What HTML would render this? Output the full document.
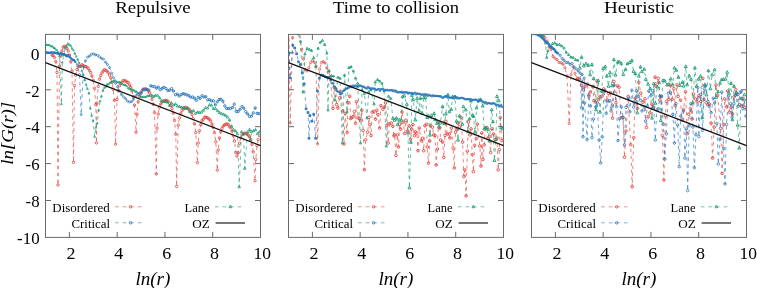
<!DOCTYPE html>
<html><head><meta charset="utf-8"><style>
html,body{margin:0;padding:0;background:#fff;}
svg{display:block;filter:blur(0.35px);}
text{font-family:"Liberation Serif", serif;fill:#000;}
.tk{font-size:17.3px;}
.ti{font-size:17.7px;}
.xl{font-size:18px;font-style:italic;}
.yl{font-size:17px;font-style:italic;}
.lg{font-size:12.3px;}
</style></head><body>
<svg width="757" height="288" viewBox="0 0 757 288">
<clipPath id="c0"><rect x="45.50" y="34.40" width="215.01" height="203.00"/></clipPath>
<clipPath id="c1"><rect x="288.50" y="34.40" width="215.01" height="203.00"/></clipPath>
<clipPath id="c2"><rect x="531.50" y="34.40" width="215.01" height="203.00"/></clipPath>
<rect x="45.50" y="34.40" width="215.01" height="203.00" fill="none" stroke="#6a6a6a" stroke-width="1"/>
<path d="M69.39,237.40v-5.5M69.39,34.40v5.5M117.17,237.40v-5.5M117.17,34.40v5.5M164.95,237.40v-5.5M164.95,34.40v5.5M212.73,237.40v-5.5M212.73,34.40v5.5M45.50,52.85h5.5M260.51,52.85h-5.5M45.50,89.76h5.5M260.51,89.76h-5.5M45.50,126.67h5.5M260.51,126.67h-5.5M45.50,163.58h5.5M260.51,163.58h-5.5M45.50,200.49h5.5M260.51,200.49h-5.5" stroke="#6a6a6a" stroke-width="1" fill="none"/>
<text x="71.09" y="259.40" class="tk" text-anchor="middle" textLength="9.0" lengthAdjust="spacingAndGlyphs">2</text>
<text x="118.87" y="259.40" class="tk" text-anchor="middle" textLength="9.0" lengthAdjust="spacingAndGlyphs">4</text>
<text x="166.65" y="259.40" class="tk" text-anchor="middle" textLength="9.0" lengthAdjust="spacingAndGlyphs">6</text>
<text x="214.43" y="259.40" class="tk" text-anchor="middle" textLength="9.0" lengthAdjust="spacingAndGlyphs">8</text>
<text x="262.21" y="259.40" class="tk" text-anchor="middle" textLength="17.5" lengthAdjust="spacingAndGlyphs">10</text>
<text x="153.00" y="12.80" class="ti" text-anchor="middle" textLength="75.5" lengthAdjust="spacingAndGlyphs">Repulsive</text>
<text x="152.91" y="284.70" class="xl" text-anchor="middle" textLength="35" lengthAdjust="spacingAndGlyphs">ln(r)</text>
<text x="109.80" y="211.70" class="lg" text-anchor="end" textLength="57.5" lengthAdjust="spacingAndGlyphs">Disordered</text>
<text x="110.00" y="227.60" class="lg" text-anchor="end" textLength="38.5" lengthAdjust="spacingAndGlyphs">Critical</text>
<text x="209.50" y="211.70" class="lg" text-anchor="end" textLength="25" lengthAdjust="spacingAndGlyphs">Lane</text>
<text x="209.70" y="227.60" class="lg" text-anchor="end" textLength="17.5" lengthAdjust="spacingAndGlyphs">OZ</text>
<line x1="115.10" y1="206.8" x2="142.60" y2="206.8" stroke="#e4463f" stroke-width="1" stroke-dasharray="3.6 4" opacity="0.6"/>
<circle cx="130.60" cy="206.80" r="1.25" fill="none" stroke="#e4463f" stroke-width="1.0" opacity="0.85"/>
<line x1="115.10" y1="222.8" x2="142.60" y2="222.8" stroke="#2a78bc" stroke-width="1" stroke-dasharray="3.6 4" opacity="0.6"/>
<circle cx="130.60" cy="222.80" r="1.25" fill="none" stroke="#2a78bc" stroke-width="1.0" opacity="0.85"/>
<line x1="214.90" y1="206.8" x2="242.40" y2="206.8" stroke="#1a9c72" stroke-width="1" stroke-dasharray="3.6 4" opacity="0.6"/>
<path d="M230.40,205.10l1.4,2.6h-2.8z" fill="none" stroke="#1a9c72" stroke-width="1.0" opacity="0.85"/>
<line x1="215.60" y1="223" x2="245.00" y2="223" stroke="#555" stroke-width="1.6"/>
<g clip-path="url(#c0)">
<path d="M52.0,55.1L53.2,55.7L54.5,57.5L55.8,61.5L57.0,72.4L58.0,184.9L59.5,66.0L60.8,56.1L62.0,51.0L63.2,47.0L64.5,46.3L65.8,46.7L67.0,48.6L68.2,51.1L69.5,55.1L70.8,61.8L72.0,71.1L73.5,162.3L74.5,85.4L75.8,75.1L77.0,69.5L78.2,66.8L79.5,66.1L80.8,66.0L82.0,64.7L83.2,65.6L84.5,66.5L85.8,66.5L87.0,67.3L88.2,68.4L89.5,70.6L90.8,72.7L92.0,76.1L93.2,80.3L94.5,88.3L95.8,104.5L96.4,142.9L97.0,103.0L98.2,86.4L99.5,79.2L100.8,75.5L102.0,72.9L103.2,71.0L104.5,69.6L105.8,70.3L107.0,71.0L108.2,72.6L109.5,75.2L110.8,77.8L112.0,82.4L113.2,89.4L114.5,100.3L115.6,144.2L117.0,99.5L118.2,90.7L119.5,85.8L120.8,83.6L122.0,82.2L123.2,80.5L124.5,80.7L125.8,80.9L127.0,82.2L128.2,82.5L129.5,84.8L130.8,87.1L132.0,90.9L133.2,96.6L134.5,105.1L136.1,132.3L137.0,114.1L138.2,101.7L139.5,96.6L140.8,93.2L142.0,90.5L143.2,89.1L144.5,89.0L145.8,88.8L147.0,89.5L148.2,91.1L149.5,92.6L150.8,95.3L152.0,99.4L153.2,104.2L154.5,112.7L156.3,174.0L157.0,128.2L158.2,114.0L159.5,107.2L160.8,104.0L162.0,102.0L163.2,101.1L164.5,100.6L165.8,100.3L167.0,100.8L168.2,101.5L169.5,103.2L170.8,105.4L172.0,108.4L173.2,113.2L174.5,120.5L175.8,134.2L176.6,186.4L178.2,125.2L179.5,117.8L180.8,113.5L182.0,110.7L183.2,108.9L184.5,107.7L185.8,107.3L187.0,108.3L188.2,108.8L189.5,109.6L190.8,112.2L192.0,114.5L193.2,118.7L194.5,123.9L195.8,132.7L197.4,162.7L198.2,142.9L199.5,130.6L200.8,124.8L202.0,120.6L203.2,119.5L204.5,117.3L205.8,117.1L207.0,117.5L208.2,118.5L209.5,119.4L210.8,121.1L212.0,124.1L213.2,127.4L214.5,132.7L215.8,141.8L217.3,170.2L218.2,150.0L219.5,137.9L220.8,131.7L222.0,128.3L223.2,126.1L224.5,125.0L225.8,124.3L227.0,123.9L228.2,124.5L229.5,126.6L230.8,127.9L232.0,131.1L233.2,135.8L234.5,141.1L235.8,152.3L237.0,156.0L238.2,152.7L239.5,143.1L240.8,137.9L242.0,134.8L243.2,133.9L244.5,133.2L245.8,133.4L247.0,134.2L248.2,135.2L249.5,136.8L250.8,139.4L252.0,144.4L253.2,152.0L255.0,180.8L255.8,159.4L257.0,145.6L258.2,139.6L259.5,135.6" fill="none" stroke="#e4463f" stroke-width="0.75" stroke-dasharray="3.4 3.6" opacity="0.9"/>
<path d="M50.80,55.1a1.2,1.2 0 1,0 2.40,0a1.2,1.2 0 1,0 -2.40,0zM52.05,55.7a1.2,1.2 0 1,0 2.40,0a1.2,1.2 0 1,0 -2.40,0zM53.30,57.5a1.2,1.2 0 1,0 2.40,0a1.2,1.2 0 1,0 -2.40,0zM54.55,61.5a1.2,1.2 0 1,0 2.40,0a1.2,1.2 0 1,0 -2.40,0zM55.80,72.4a1.2,1.2 0 1,0 2.40,0a1.2,1.2 0 1,0 -2.40,0zM56.80,184.9a1.2,1.2 0 1,0 2.40,0a1.2,1.2 0 1,0 -2.40,0zM58.30,66.0a1.2,1.2 0 1,0 2.40,0a1.2,1.2 0 1,0 -2.40,0zM59.55,56.1a1.2,1.2 0 1,0 2.40,0a1.2,1.2 0 1,0 -2.40,0zM60.80,51.0a1.2,1.2 0 1,0 2.40,0a1.2,1.2 0 1,0 -2.40,0zM62.05,47.0a1.2,1.2 0 1,0 2.40,0a1.2,1.2 0 1,0 -2.40,0zM63.30,46.3a1.2,1.2 0 1,0 2.40,0a1.2,1.2 0 1,0 -2.40,0zM64.55,46.7a1.2,1.2 0 1,0 2.40,0a1.2,1.2 0 1,0 -2.40,0zM65.80,48.6a1.2,1.2 0 1,0 2.40,0a1.2,1.2 0 1,0 -2.40,0zM67.05,51.1a1.2,1.2 0 1,0 2.40,0a1.2,1.2 0 1,0 -2.40,0zM68.30,55.1a1.2,1.2 0 1,0 2.40,0a1.2,1.2 0 1,0 -2.40,0zM69.55,61.8a1.2,1.2 0 1,0 2.40,0a1.2,1.2 0 1,0 -2.40,0zM70.80,71.1a1.2,1.2 0 1,0 2.40,0a1.2,1.2 0 1,0 -2.40,0zM72.30,162.3a1.2,1.2 0 1,0 2.40,0a1.2,1.2 0 1,0 -2.40,0zM73.30,85.4a1.2,1.2 0 1,0 2.40,0a1.2,1.2 0 1,0 -2.40,0zM74.55,75.1a1.2,1.2 0 1,0 2.40,0a1.2,1.2 0 1,0 -2.40,0zM75.80,69.5a1.2,1.2 0 1,0 2.40,0a1.2,1.2 0 1,0 -2.40,0zM77.05,66.8a1.2,1.2 0 1,0 2.40,0a1.2,1.2 0 1,0 -2.40,0zM78.30,66.1a1.2,1.2 0 1,0 2.40,0a1.2,1.2 0 1,0 -2.40,0zM79.55,66.0a1.2,1.2 0 1,0 2.40,0a1.2,1.2 0 1,0 -2.40,0zM80.80,64.7a1.2,1.2 0 1,0 2.40,0a1.2,1.2 0 1,0 -2.40,0zM82.05,65.6a1.2,1.2 0 1,0 2.40,0a1.2,1.2 0 1,0 -2.40,0zM83.30,66.5a1.2,1.2 0 1,0 2.40,0a1.2,1.2 0 1,0 -2.40,0zM84.55,66.5a1.2,1.2 0 1,0 2.40,0a1.2,1.2 0 1,0 -2.40,0zM85.80,67.3a1.2,1.2 0 1,0 2.40,0a1.2,1.2 0 1,0 -2.40,0zM87.05,68.4a1.2,1.2 0 1,0 2.40,0a1.2,1.2 0 1,0 -2.40,0zM88.30,70.6a1.2,1.2 0 1,0 2.40,0a1.2,1.2 0 1,0 -2.40,0zM89.55,72.7a1.2,1.2 0 1,0 2.40,0a1.2,1.2 0 1,0 -2.40,0zM90.80,76.1a1.2,1.2 0 1,0 2.40,0a1.2,1.2 0 1,0 -2.40,0zM92.05,80.3a1.2,1.2 0 1,0 2.40,0a1.2,1.2 0 1,0 -2.40,0zM93.30,88.3a1.2,1.2 0 1,0 2.40,0a1.2,1.2 0 1,0 -2.40,0zM94.55,104.5a1.2,1.2 0 1,0 2.40,0a1.2,1.2 0 1,0 -2.40,0zM95.20,142.9a1.2,1.2 0 1,0 2.40,0a1.2,1.2 0 1,0 -2.40,0zM95.80,103.0a1.2,1.2 0 1,0 2.40,0a1.2,1.2 0 1,0 -2.40,0zM97.05,86.4a1.2,1.2 0 1,0 2.40,0a1.2,1.2 0 1,0 -2.40,0zM98.30,79.2a1.2,1.2 0 1,0 2.40,0a1.2,1.2 0 1,0 -2.40,0zM99.55,75.5a1.2,1.2 0 1,0 2.40,0a1.2,1.2 0 1,0 -2.40,0zM100.80,72.9a1.2,1.2 0 1,0 2.40,0a1.2,1.2 0 1,0 -2.40,0zM102.05,71.0a1.2,1.2 0 1,0 2.40,0a1.2,1.2 0 1,0 -2.40,0zM103.30,69.6a1.2,1.2 0 1,0 2.40,0a1.2,1.2 0 1,0 -2.40,0zM104.55,70.3a1.2,1.2 0 1,0 2.40,0a1.2,1.2 0 1,0 -2.40,0zM105.80,71.0a1.2,1.2 0 1,0 2.40,0a1.2,1.2 0 1,0 -2.40,0zM107.05,72.6a1.2,1.2 0 1,0 2.40,0a1.2,1.2 0 1,0 -2.40,0zM108.30,75.2a1.2,1.2 0 1,0 2.40,0a1.2,1.2 0 1,0 -2.40,0zM109.55,77.8a1.2,1.2 0 1,0 2.40,0a1.2,1.2 0 1,0 -2.40,0zM110.80,82.4a1.2,1.2 0 1,0 2.40,0a1.2,1.2 0 1,0 -2.40,0zM112.05,89.4a1.2,1.2 0 1,0 2.40,0a1.2,1.2 0 1,0 -2.40,0zM113.30,100.3a1.2,1.2 0 1,0 2.40,0a1.2,1.2 0 1,0 -2.40,0zM114.40,144.2a1.2,1.2 0 1,0 2.40,0a1.2,1.2 0 1,0 -2.40,0zM115.80,99.5a1.2,1.2 0 1,0 2.40,0a1.2,1.2 0 1,0 -2.40,0zM117.05,90.7a1.2,1.2 0 1,0 2.40,0a1.2,1.2 0 1,0 -2.40,0zM118.30,85.8a1.2,1.2 0 1,0 2.40,0a1.2,1.2 0 1,0 -2.40,0zM119.55,83.6a1.2,1.2 0 1,0 2.40,0a1.2,1.2 0 1,0 -2.40,0zM120.80,82.2a1.2,1.2 0 1,0 2.40,0a1.2,1.2 0 1,0 -2.40,0zM122.05,80.5a1.2,1.2 0 1,0 2.40,0a1.2,1.2 0 1,0 -2.40,0zM123.30,80.7a1.2,1.2 0 1,0 2.40,0a1.2,1.2 0 1,0 -2.40,0zM124.55,80.9a1.2,1.2 0 1,0 2.40,0a1.2,1.2 0 1,0 -2.40,0zM125.80,82.2a1.2,1.2 0 1,0 2.40,0a1.2,1.2 0 1,0 -2.40,0zM127.05,82.5a1.2,1.2 0 1,0 2.40,0a1.2,1.2 0 1,0 -2.40,0zM128.30,84.8a1.2,1.2 0 1,0 2.40,0a1.2,1.2 0 1,0 -2.40,0zM129.55,87.1a1.2,1.2 0 1,0 2.40,0a1.2,1.2 0 1,0 -2.40,0zM130.80,90.9a1.2,1.2 0 1,0 2.40,0a1.2,1.2 0 1,0 -2.40,0zM132.05,96.6a1.2,1.2 0 1,0 2.40,0a1.2,1.2 0 1,0 -2.40,0zM133.30,105.1a1.2,1.2 0 1,0 2.40,0a1.2,1.2 0 1,0 -2.40,0zM134.90,132.3a1.2,1.2 0 1,0 2.40,0a1.2,1.2 0 1,0 -2.40,0zM135.80,114.1a1.2,1.2 0 1,0 2.40,0a1.2,1.2 0 1,0 -2.40,0zM137.05,101.7a1.2,1.2 0 1,0 2.40,0a1.2,1.2 0 1,0 -2.40,0zM138.30,96.6a1.2,1.2 0 1,0 2.40,0a1.2,1.2 0 1,0 -2.40,0zM139.55,93.2a1.2,1.2 0 1,0 2.40,0a1.2,1.2 0 1,0 -2.40,0zM140.80,90.5a1.2,1.2 0 1,0 2.40,0a1.2,1.2 0 1,0 -2.40,0zM142.05,89.1a1.2,1.2 0 1,0 2.40,0a1.2,1.2 0 1,0 -2.40,0zM143.30,89.0a1.2,1.2 0 1,0 2.40,0a1.2,1.2 0 1,0 -2.40,0zM144.55,88.8a1.2,1.2 0 1,0 2.40,0a1.2,1.2 0 1,0 -2.40,0zM145.80,89.5a1.2,1.2 0 1,0 2.40,0a1.2,1.2 0 1,0 -2.40,0zM147.05,91.1a1.2,1.2 0 1,0 2.40,0a1.2,1.2 0 1,0 -2.40,0zM148.30,92.6a1.2,1.2 0 1,0 2.40,0a1.2,1.2 0 1,0 -2.40,0zM149.55,95.3a1.2,1.2 0 1,0 2.40,0a1.2,1.2 0 1,0 -2.40,0zM150.80,99.4a1.2,1.2 0 1,0 2.40,0a1.2,1.2 0 1,0 -2.40,0zM152.05,104.2a1.2,1.2 0 1,0 2.40,0a1.2,1.2 0 1,0 -2.40,0zM153.30,112.7a1.2,1.2 0 1,0 2.40,0a1.2,1.2 0 1,0 -2.40,0zM155.10,174.0a1.2,1.2 0 1,0 2.40,0a1.2,1.2 0 1,0 -2.40,0zM155.80,128.2a1.2,1.2 0 1,0 2.40,0a1.2,1.2 0 1,0 -2.40,0zM157.05,114.0a1.2,1.2 0 1,0 2.40,0a1.2,1.2 0 1,0 -2.40,0zM158.30,107.2a1.2,1.2 0 1,0 2.40,0a1.2,1.2 0 1,0 -2.40,0zM159.55,104.0a1.2,1.2 0 1,0 2.40,0a1.2,1.2 0 1,0 -2.40,0zM160.80,102.0a1.2,1.2 0 1,0 2.40,0a1.2,1.2 0 1,0 -2.40,0zM162.05,101.1a1.2,1.2 0 1,0 2.40,0a1.2,1.2 0 1,0 -2.40,0zM163.30,100.6a1.2,1.2 0 1,0 2.40,0a1.2,1.2 0 1,0 -2.40,0zM164.55,100.3a1.2,1.2 0 1,0 2.40,0a1.2,1.2 0 1,0 -2.40,0zM165.80,100.8a1.2,1.2 0 1,0 2.40,0a1.2,1.2 0 1,0 -2.40,0zM167.05,101.5a1.2,1.2 0 1,0 2.40,0a1.2,1.2 0 1,0 -2.40,0zM168.30,103.2a1.2,1.2 0 1,0 2.40,0a1.2,1.2 0 1,0 -2.40,0zM169.55,105.4a1.2,1.2 0 1,0 2.40,0a1.2,1.2 0 1,0 -2.40,0zM170.80,108.4a1.2,1.2 0 1,0 2.40,0a1.2,1.2 0 1,0 -2.40,0zM172.05,113.2a1.2,1.2 0 1,0 2.40,0a1.2,1.2 0 1,0 -2.40,0zM173.30,120.5a1.2,1.2 0 1,0 2.40,0a1.2,1.2 0 1,0 -2.40,0zM174.55,134.2a1.2,1.2 0 1,0 2.40,0a1.2,1.2 0 1,0 -2.40,0zM175.40,186.4a1.2,1.2 0 1,0 2.40,0a1.2,1.2 0 1,0 -2.40,0zM177.05,125.2a1.2,1.2 0 1,0 2.40,0a1.2,1.2 0 1,0 -2.40,0zM178.30,117.8a1.2,1.2 0 1,0 2.40,0a1.2,1.2 0 1,0 -2.40,0zM179.55,113.5a1.2,1.2 0 1,0 2.40,0a1.2,1.2 0 1,0 -2.40,0zM180.80,110.7a1.2,1.2 0 1,0 2.40,0a1.2,1.2 0 1,0 -2.40,0zM182.05,108.9a1.2,1.2 0 1,0 2.40,0a1.2,1.2 0 1,0 -2.40,0zM183.30,107.7a1.2,1.2 0 1,0 2.40,0a1.2,1.2 0 1,0 -2.40,0zM184.55,107.3a1.2,1.2 0 1,0 2.40,0a1.2,1.2 0 1,0 -2.40,0zM185.80,108.3a1.2,1.2 0 1,0 2.40,0a1.2,1.2 0 1,0 -2.40,0zM187.05,108.8a1.2,1.2 0 1,0 2.40,0a1.2,1.2 0 1,0 -2.40,0zM188.30,109.6a1.2,1.2 0 1,0 2.40,0a1.2,1.2 0 1,0 -2.40,0zM189.55,112.2a1.2,1.2 0 1,0 2.40,0a1.2,1.2 0 1,0 -2.40,0zM190.80,114.5a1.2,1.2 0 1,0 2.40,0a1.2,1.2 0 1,0 -2.40,0zM192.05,118.7a1.2,1.2 0 1,0 2.40,0a1.2,1.2 0 1,0 -2.40,0zM193.30,123.9a1.2,1.2 0 1,0 2.40,0a1.2,1.2 0 1,0 -2.40,0zM194.55,132.7a1.2,1.2 0 1,0 2.40,0a1.2,1.2 0 1,0 -2.40,0zM196.20,162.7a1.2,1.2 0 1,0 2.40,0a1.2,1.2 0 1,0 -2.40,0zM197.05,142.9a1.2,1.2 0 1,0 2.40,0a1.2,1.2 0 1,0 -2.40,0zM198.30,130.6a1.2,1.2 0 1,0 2.40,0a1.2,1.2 0 1,0 -2.40,0zM199.55,124.8a1.2,1.2 0 1,0 2.40,0a1.2,1.2 0 1,0 -2.40,0zM200.80,120.6a1.2,1.2 0 1,0 2.40,0a1.2,1.2 0 1,0 -2.40,0zM202.05,119.5a1.2,1.2 0 1,0 2.40,0a1.2,1.2 0 1,0 -2.40,0zM203.30,117.3a1.2,1.2 0 1,0 2.40,0a1.2,1.2 0 1,0 -2.40,0zM204.55,117.1a1.2,1.2 0 1,0 2.40,0a1.2,1.2 0 1,0 -2.40,0zM205.80,117.5a1.2,1.2 0 1,0 2.40,0a1.2,1.2 0 1,0 -2.40,0zM207.05,118.5a1.2,1.2 0 1,0 2.40,0a1.2,1.2 0 1,0 -2.40,0zM208.30,119.4a1.2,1.2 0 1,0 2.40,0a1.2,1.2 0 1,0 -2.40,0zM209.55,121.1a1.2,1.2 0 1,0 2.40,0a1.2,1.2 0 1,0 -2.40,0zM210.80,124.1a1.2,1.2 0 1,0 2.40,0a1.2,1.2 0 1,0 -2.40,0zM212.05,127.4a1.2,1.2 0 1,0 2.40,0a1.2,1.2 0 1,0 -2.40,0zM213.30,132.7a1.2,1.2 0 1,0 2.40,0a1.2,1.2 0 1,0 -2.40,0zM214.55,141.8a1.2,1.2 0 1,0 2.40,0a1.2,1.2 0 1,0 -2.40,0zM216.10,170.2a1.2,1.2 0 1,0 2.40,0a1.2,1.2 0 1,0 -2.40,0zM217.05,150.0a1.2,1.2 0 1,0 2.40,0a1.2,1.2 0 1,0 -2.40,0zM218.30,137.9a1.2,1.2 0 1,0 2.40,0a1.2,1.2 0 1,0 -2.40,0zM219.55,131.7a1.2,1.2 0 1,0 2.40,0a1.2,1.2 0 1,0 -2.40,0zM220.80,128.3a1.2,1.2 0 1,0 2.40,0a1.2,1.2 0 1,0 -2.40,0zM222.05,126.1a1.2,1.2 0 1,0 2.40,0a1.2,1.2 0 1,0 -2.40,0zM223.30,125.0a1.2,1.2 0 1,0 2.40,0a1.2,1.2 0 1,0 -2.40,0zM224.55,124.3a1.2,1.2 0 1,0 2.40,0a1.2,1.2 0 1,0 -2.40,0zM225.80,123.9a1.2,1.2 0 1,0 2.40,0a1.2,1.2 0 1,0 -2.40,0zM227.05,124.5a1.2,1.2 0 1,0 2.40,0a1.2,1.2 0 1,0 -2.40,0zM228.30,126.6a1.2,1.2 0 1,0 2.40,0a1.2,1.2 0 1,0 -2.40,0zM229.55,127.9a1.2,1.2 0 1,0 2.40,0a1.2,1.2 0 1,0 -2.40,0zM230.80,131.1a1.2,1.2 0 1,0 2.40,0a1.2,1.2 0 1,0 -2.40,0zM232.05,135.8a1.2,1.2 0 1,0 2.40,0a1.2,1.2 0 1,0 -2.40,0zM233.30,141.1a1.2,1.2 0 1,0 2.40,0a1.2,1.2 0 1,0 -2.40,0zM234.55,152.3a1.2,1.2 0 1,0 2.40,0a1.2,1.2 0 1,0 -2.40,0zM235.80,156.0a1.2,1.2 0 1,0 2.40,0a1.2,1.2 0 1,0 -2.40,0zM237.05,152.7a1.2,1.2 0 1,0 2.40,0a1.2,1.2 0 1,0 -2.40,0zM238.30,143.1a1.2,1.2 0 1,0 2.40,0a1.2,1.2 0 1,0 -2.40,0zM239.55,137.9a1.2,1.2 0 1,0 2.40,0a1.2,1.2 0 1,0 -2.40,0zM240.80,134.8a1.2,1.2 0 1,0 2.40,0a1.2,1.2 0 1,0 -2.40,0zM242.05,133.9a1.2,1.2 0 1,0 2.40,0a1.2,1.2 0 1,0 -2.40,0zM243.30,133.2a1.2,1.2 0 1,0 2.40,0a1.2,1.2 0 1,0 -2.40,0zM244.55,133.4a1.2,1.2 0 1,0 2.40,0a1.2,1.2 0 1,0 -2.40,0zM245.80,134.2a1.2,1.2 0 1,0 2.40,0a1.2,1.2 0 1,0 -2.40,0zM247.05,135.2a1.2,1.2 0 1,0 2.40,0a1.2,1.2 0 1,0 -2.40,0zM248.30,136.8a1.2,1.2 0 1,0 2.40,0a1.2,1.2 0 1,0 -2.40,0zM249.55,139.4a1.2,1.2 0 1,0 2.40,0a1.2,1.2 0 1,0 -2.40,0zM250.80,144.4a1.2,1.2 0 1,0 2.40,0a1.2,1.2 0 1,0 -2.40,0zM252.05,152.0a1.2,1.2 0 1,0 2.40,0a1.2,1.2 0 1,0 -2.40,0zM253.80,180.8a1.2,1.2 0 1,0 2.40,0a1.2,1.2 0 1,0 -2.40,0zM254.55,159.4a1.2,1.2 0 1,0 2.40,0a1.2,1.2 0 1,0 -2.40,0zM255.80,145.6a1.2,1.2 0 1,0 2.40,0a1.2,1.2 0 1,0 -2.40,0zM257.05,139.6a1.2,1.2 0 1,0 2.40,0a1.2,1.2 0 1,0 -2.40,0zM258.30,135.6a1.2,1.2 0 1,0 2.40,0a1.2,1.2 0 1,0 -2.40,0z" fill="none" stroke="#e4463f" stroke-width="0.85" opacity="1.0"/>
<path d="M45.5,44.6L46.9,44.8L48.3,45.0L49.7,45.2L51.1,46.2L52.5,46.5L53.9,47.8L55.3,48.7L56.7,50.0L58.1,52.3L59.5,55.9L61.4,104.0L62.3,62.2L63.7,54.9L65.1,48.3L66.5,45.6L67.9,43.7L69.3,44.7L70.7,45.6L72.1,48.5L73.5,50.2L74.9,53.4L76.3,56.4L77.7,59.4L79.1,62.8L80.5,66.6L81.9,70.7L83.3,74.8L84.7,79.8L86.1,84.5L87.5,88.8L88.9,93.1L90.3,108.5L91.7,115.7L93.1,120.7L94.6,136.6L95.9,127.5L97.3,123.0L98.7,110.3L100.1,101.0L101.5,96.1L102.9,90.6L104.3,87.7L105.7,86.7L107.1,84.5L108.5,84.2L109.9,82.7L111.3,81.9L112.7,81.6L114.1,80.6L115.5,80.6L116.9,82.1L118.3,82.3L119.7,82.1L121.1,82.8L122.5,84.0L123.9,84.8L125.3,85.0L126.7,85.9L128.1,87.9L129.5,89.0L130.9,89.0L132.3,89.6L133.7,90.1L135.1,91.4L136.5,91.6L137.9,93.3L139.3,95.1L140.7,96.4L142.1,97.1L143.5,96.8L144.9,97.0L146.3,96.6L147.7,95.7L149.1,95.9L151.5,95.2L153.5,96.6L155.5,95.3L157.5,95.4L159.5,97.7L161.5,100.6L163.5,101.3L165.5,101.6L167.5,102.2L169.5,105.4L171.5,103.0L173.5,105.1L175.5,104.0L177.5,106.1L179.5,106.6L181.5,107.1L183.5,107.8L185.5,108.7L187.5,107.8L189.5,111.2L191.5,111.4L193.5,110.7L195.5,113.4L197.5,112.1L199.5,112.6L201.5,112.0L203.5,110.2L205.5,107.7L207.5,108.1L209.5,104.9L211.5,105.2L213.5,108.6L215.5,108.7L217.5,110.7L219.5,112.6L221.5,113.7L223.5,114.3L225.5,115.4L227.5,117.1L229.5,120.0L231.5,126.1L233.5,129.5L235.5,131.1L237.5,133.9L239.2,186.9L241.5,131.8L243.5,134.2L244.8,168.4L247.5,131.8L249.5,129.5L250.5,140.0L251.5,131.5L253.5,130.8L255.5,129.8L257.5,133.4L259.5,131.7" fill="none" stroke="#1a9c72" stroke-width="0.75" stroke-dasharray="3.4 3.6" opacity="0.9"/>
<path d="M45.5,43.6l0.88,1.68h-1.76zM46.9,43.8l0.88,1.68h-1.76zM48.3,44.0l0.88,1.68h-1.76zM49.7,44.2l0.88,1.68h-1.76zM51.1,45.2l0.88,1.68h-1.76zM52.5,45.5l0.88,1.68h-1.76zM53.9,46.8l0.88,1.68h-1.76zM55.3,47.7l0.88,1.68h-1.76zM56.7,49.0l0.88,1.68h-1.76zM58.1,51.3l0.88,1.68h-1.76zM59.5,54.9l0.88,1.68h-1.76zM61.4,103.0l0.88,1.68h-1.76zM62.3,61.2l0.88,1.68h-1.76zM63.7,53.9l0.88,1.68h-1.76zM65.1,47.3l0.88,1.68h-1.76zM66.5,44.6l0.88,1.68h-1.76zM67.9,42.7l0.88,1.68h-1.76zM69.3,43.7l0.88,1.68h-1.76zM70.7,44.6l0.88,1.68h-1.76zM72.1,47.5l0.88,1.68h-1.76zM73.5,49.2l0.88,1.68h-1.76zM74.9,52.4l0.88,1.68h-1.76zM76.3,55.4l0.88,1.68h-1.76zM77.7,58.4l0.88,1.68h-1.76zM79.1,61.8l0.88,1.68h-1.76zM80.5,65.6l0.88,1.68h-1.76zM81.9,69.7l0.88,1.68h-1.76zM83.3,73.8l0.88,1.68h-1.76zM84.7,78.8l0.88,1.68h-1.76zM86.1,83.5l0.88,1.68h-1.76zM87.5,87.8l0.88,1.68h-1.76zM88.9,92.1l0.88,1.68h-1.76zM90.3,107.5l0.88,1.68h-1.76zM91.7,114.7l0.88,1.68h-1.76zM93.1,119.7l0.88,1.68h-1.76zM94.6,135.6l0.88,1.68h-1.76zM95.9,126.5l0.88,1.68h-1.76zM97.3,122.0l0.88,1.68h-1.76zM98.7,109.3l0.88,1.68h-1.76zM100.1,100.0l0.88,1.68h-1.76zM101.5,95.1l0.88,1.68h-1.76zM102.9,89.6l0.88,1.68h-1.76zM104.3,86.7l0.88,1.68h-1.76zM105.7,85.7l0.88,1.68h-1.76zM107.1,83.5l0.88,1.68h-1.76zM108.5,83.2l0.88,1.68h-1.76zM109.9,81.7l0.88,1.68h-1.76zM111.3,80.9l0.88,1.68h-1.76zM112.7,80.6l0.88,1.68h-1.76zM114.1,79.6l0.88,1.68h-1.76zM115.5,79.6l0.88,1.68h-1.76zM116.9,81.1l0.88,1.68h-1.76zM118.3,81.3l0.88,1.68h-1.76zM119.7,81.1l0.88,1.68h-1.76zM121.1,81.8l0.88,1.68h-1.76zM122.5,83.0l0.88,1.68h-1.76zM123.9,83.8l0.88,1.68h-1.76zM125.3,84.0l0.88,1.68h-1.76zM126.7,84.9l0.88,1.68h-1.76zM128.1,86.9l0.88,1.68h-1.76zM129.5,88.0l0.88,1.68h-1.76zM130.9,88.0l0.88,1.68h-1.76zM132.3,88.6l0.88,1.68h-1.76zM133.7,89.1l0.88,1.68h-1.76zM135.1,90.4l0.88,1.68h-1.76zM136.5,90.6l0.88,1.68h-1.76zM137.9,92.3l0.88,1.68h-1.76zM139.3,94.1l0.88,1.68h-1.76zM140.7,95.4l0.88,1.68h-1.76zM142.1,96.1l0.88,1.68h-1.76zM143.5,95.8l0.88,1.68h-1.76zM144.9,96.0l0.88,1.68h-1.76zM146.3,95.6l0.88,1.68h-1.76zM147.7,94.7l0.88,1.68h-1.76zM149.1,94.9l0.88,1.68h-1.76z" fill="none" stroke="#1a9c72" stroke-width="0.75" opacity="1.0"/>
<path d="M151.5,93.8l1.21,2.31h-2.42zM153.5,95.2l1.21,2.31h-2.42zM155.5,94.0l1.21,2.31h-2.42zM157.5,94.0l1.21,2.31h-2.42zM159.5,96.3l1.21,2.31h-2.42zM161.5,99.2l1.21,2.31h-2.42zM163.5,99.9l1.21,2.31h-2.42zM165.5,100.2l1.21,2.31h-2.42zM167.5,100.8l1.21,2.31h-2.42zM169.5,104.1l1.21,2.31h-2.42zM171.5,101.6l1.21,2.31h-2.42zM173.5,103.8l1.21,2.31h-2.42zM175.5,102.6l1.21,2.31h-2.42zM177.5,104.7l1.21,2.31h-2.42zM179.5,105.2l1.21,2.31h-2.42zM181.5,105.8l1.21,2.31h-2.42zM183.5,106.4l1.21,2.31h-2.42zM185.5,107.3l1.21,2.31h-2.42zM187.5,106.5l1.21,2.31h-2.42zM189.5,109.9l1.21,2.31h-2.42zM191.5,110.1l1.21,2.31h-2.42zM193.5,109.3l1.21,2.31h-2.42zM195.5,112.0l1.21,2.31h-2.42zM197.5,110.7l1.21,2.31h-2.42zM199.5,111.2l1.21,2.31h-2.42zM201.5,110.6l1.21,2.31h-2.42zM203.5,108.8l1.21,2.31h-2.42zM205.5,106.3l1.21,2.31h-2.42zM207.5,106.7l1.21,2.31h-2.42zM209.5,103.5l1.21,2.31h-2.42zM211.5,103.8l1.21,2.31h-2.42zM213.5,107.3l1.21,2.31h-2.42zM215.5,107.3l1.21,2.31h-2.42zM217.5,109.3l1.21,2.31h-2.42zM219.5,111.2l1.21,2.31h-2.42zM221.5,112.4l1.21,2.31h-2.42zM223.5,112.9l1.21,2.31h-2.42zM225.5,114.0l1.21,2.31h-2.42zM227.5,115.7l1.21,2.31h-2.42zM229.5,118.6l1.21,2.31h-2.42zM231.5,124.7l1.21,2.31h-2.42zM233.5,128.1l1.21,2.31h-2.42zM235.5,129.7l1.21,2.31h-2.42zM237.5,132.5l1.21,2.31h-2.42zM239.2,185.5l1.21,2.31h-2.42zM241.5,130.4l1.21,2.31h-2.42zM243.5,132.8l1.21,2.31h-2.42zM244.8,167.0l1.21,2.31h-2.42zM247.5,130.5l1.21,2.31h-2.42zM249.5,128.2l1.21,2.31h-2.42zM250.5,138.6l1.21,2.31h-2.42zM251.5,130.1l1.21,2.31h-2.42zM253.5,129.4l1.21,2.31h-2.42zM255.5,128.4l1.21,2.31h-2.42zM257.5,132.1l1.21,2.31h-2.42zM259.5,130.4l1.21,2.31h-2.42z" fill="none" stroke="#1a9c72" stroke-width="0.8" opacity="1.0"/>
<path d="M45.5,52.3L46.6,52.4L47.7,53.0L48.8,52.7L49.9,52.8L51.0,52.4L52.1,52.5L53.2,52.7L54.3,52.6L55.4,53.1L56.5,53.2L57.6,53.3L58.7,53.8L59.8,53.9L60.9,53.3L62.0,54.0L63.1,54.4L64.2,54.2L65.3,54.9L66.4,56.2L67.5,55.2L68.6,56.2L69.7,57.0L70.8,58.2L71.9,59.3L73.0,59.9L74.1,60.2L75.2,61.7L77.5,65.2L79.5,74.6L81.2,114.6L83.5,66.8L85.5,60.7L87.5,57.2L89.5,56.0L91.5,54.3L93.5,53.8L95.5,54.8L97.5,55.3L99.5,56.8L101.5,58.4L103.5,59.2L105.5,62.2L107.5,64.6L109.5,67.5L111.5,73.0L113.5,77.8L115.5,83.4L117.5,86.7L119.5,91.0L121.5,94.5L123.5,96.8L125.5,98.6L127.5,101.2L129.5,102.0L131.5,101.7L133.5,98.8L135.5,96.1L137.5,94.2L139.5,92.9L141.2,92.9L143.1,89.8L145.0,89.8L146.9,89.3L148.8,90.1L150.7,85.7L152.6,86.5L154.5,86.5L156.4,88.2L158.3,87.1L160.2,89.7L162.1,88.3L164.0,87.4L165.9,88.4L167.8,90.6L169.7,90.2L171.6,88.6L173.5,91.0L175.4,94.7L177.3,94.1L179.2,96.1L181.1,94.7L183.0,93.7L184.9,94.2L186.8,94.8L188.7,95.6L190.6,97.1L192.5,97.0L194.4,98.2L196.3,100.3L198.2,97.3L200.1,98.4L202.0,95.7L203.9,97.0L205.8,96.7L207.7,99.9L209.6,99.7L211.5,101.0L213.4,100.8L215.3,105.0L217.2,101.9L219.1,99.5L221.0,99.2L222.9,101.2L224.8,105.9L226.7,108.5L228.6,108.6L230.5,108.5L232.4,107.6L234.3,104.1L236.2,111.4L238.1,111.6L240.0,109.3L241.9,106.5L243.8,108.2L245.7,111.6L247.6,113.9L249.5,116.4L251.4,116.2L253.3,112.8L255.2,107.9L257.1,113.3L259.0,113.7" fill="none" stroke="#2a78bc" stroke-width="0.75" stroke-dasharray="3.4 3.6" opacity="0.9"/>
<path d="M44.80,52.3a0.7,0.7 0 1,0 1.40,0a0.7,0.7 0 1,0 -1.40,0zM45.90,52.4a0.7,0.7 0 1,0 1.40,0a0.7,0.7 0 1,0 -1.40,0zM47.00,53.0a0.7,0.7 0 1,0 1.40,0a0.7,0.7 0 1,0 -1.40,0zM48.10,52.7a0.7,0.7 0 1,0 1.40,0a0.7,0.7 0 1,0 -1.40,0zM49.20,52.8a0.7,0.7 0 1,0 1.40,0a0.7,0.7 0 1,0 -1.40,0zM50.30,52.4a0.7,0.7 0 1,0 1.40,0a0.7,0.7 0 1,0 -1.40,0zM51.40,52.5a0.7,0.7 0 1,0 1.40,0a0.7,0.7 0 1,0 -1.40,0zM52.50,52.7a0.7,0.7 0 1,0 1.40,0a0.7,0.7 0 1,0 -1.40,0zM53.60,52.6a0.7,0.7 0 1,0 1.40,0a0.7,0.7 0 1,0 -1.40,0zM54.70,53.1a0.7,0.7 0 1,0 1.40,0a0.7,0.7 0 1,0 -1.40,0zM55.80,53.2a0.7,0.7 0 1,0 1.40,0a0.7,0.7 0 1,0 -1.40,0zM56.90,53.3a0.7,0.7 0 1,0 1.40,0a0.7,0.7 0 1,0 -1.40,0zM58.00,53.8a0.7,0.7 0 1,0 1.40,0a0.7,0.7 0 1,0 -1.40,0zM59.10,53.9a0.7,0.7 0 1,0 1.40,0a0.7,0.7 0 1,0 -1.40,0zM60.20,53.3a0.7,0.7 0 1,0 1.40,0a0.7,0.7 0 1,0 -1.40,0zM61.30,54.0a0.7,0.7 0 1,0 1.40,0a0.7,0.7 0 1,0 -1.40,0zM62.40,54.4a0.7,0.7 0 1,0 1.40,0a0.7,0.7 0 1,0 -1.40,0zM63.50,54.2a0.7,0.7 0 1,0 1.40,0a0.7,0.7 0 1,0 -1.40,0zM64.60,54.9a0.7,0.7 0 1,0 1.40,0a0.7,0.7 0 1,0 -1.40,0zM65.70,56.2a0.7,0.7 0 1,0 1.40,0a0.7,0.7 0 1,0 -1.40,0zM66.80,55.2a0.7,0.7 0 1,0 1.40,0a0.7,0.7 0 1,0 -1.40,0zM67.90,56.2a0.7,0.7 0 1,0 1.40,0a0.7,0.7 0 1,0 -1.40,0zM69.00,57.0a0.7,0.7 0 1,0 1.40,0a0.7,0.7 0 1,0 -1.40,0zM70.10,58.2a0.7,0.7 0 1,0 1.40,0a0.7,0.7 0 1,0 -1.40,0zM71.20,59.3a0.7,0.7 0 1,0 1.40,0a0.7,0.7 0 1,0 -1.40,0zM72.30,59.9a0.7,0.7 0 1,0 1.40,0a0.7,0.7 0 1,0 -1.40,0zM73.40,60.2a0.7,0.7 0 1,0 1.40,0a0.7,0.7 0 1,0 -1.40,0zM74.50,61.7a0.7,0.7 0 1,0 1.40,0a0.7,0.7 0 1,0 -1.40,0z" fill="none" stroke="#2a78bc" stroke-width="1.1" opacity="1.0"/>
<path d="M76.50,65.2a1.0,1.0 0 1,0 2.00,0a1.0,1.0 0 1,0 -2.00,0zM78.50,74.6a1.0,1.0 0 1,0 2.00,0a1.0,1.0 0 1,0 -2.00,0zM80.20,114.6a1.0,1.0 0 1,0 2.00,0a1.0,1.0 0 1,0 -2.00,0zM82.50,66.8a1.0,1.0 0 1,0 2.00,0a1.0,1.0 0 1,0 -2.00,0zM84.50,60.7a1.0,1.0 0 1,0 2.00,0a1.0,1.0 0 1,0 -2.00,0zM86.50,57.2a1.0,1.0 0 1,0 2.00,0a1.0,1.0 0 1,0 -2.00,0zM88.50,56.0a1.0,1.0 0 1,0 2.00,0a1.0,1.0 0 1,0 -2.00,0zM90.50,54.3a1.0,1.0 0 1,0 2.00,0a1.0,1.0 0 1,0 -2.00,0zM92.50,53.8a1.0,1.0 0 1,0 2.00,0a1.0,1.0 0 1,0 -2.00,0zM94.50,54.8a1.0,1.0 0 1,0 2.00,0a1.0,1.0 0 1,0 -2.00,0zM96.50,55.3a1.0,1.0 0 1,0 2.00,0a1.0,1.0 0 1,0 -2.00,0zM98.50,56.8a1.0,1.0 0 1,0 2.00,0a1.0,1.0 0 1,0 -2.00,0zM100.50,58.4a1.0,1.0 0 1,0 2.00,0a1.0,1.0 0 1,0 -2.00,0zM102.50,59.2a1.0,1.0 0 1,0 2.00,0a1.0,1.0 0 1,0 -2.00,0zM104.50,62.2a1.0,1.0 0 1,0 2.00,0a1.0,1.0 0 1,0 -2.00,0zM106.50,64.6a1.0,1.0 0 1,0 2.00,0a1.0,1.0 0 1,0 -2.00,0zM108.50,67.5a1.0,1.0 0 1,0 2.00,0a1.0,1.0 0 1,0 -2.00,0zM110.50,73.0a1.0,1.0 0 1,0 2.00,0a1.0,1.0 0 1,0 -2.00,0zM112.50,77.8a1.0,1.0 0 1,0 2.00,0a1.0,1.0 0 1,0 -2.00,0zM114.50,83.4a1.0,1.0 0 1,0 2.00,0a1.0,1.0 0 1,0 -2.00,0zM116.50,86.7a1.0,1.0 0 1,0 2.00,0a1.0,1.0 0 1,0 -2.00,0zM118.50,91.0a1.0,1.0 0 1,0 2.00,0a1.0,1.0 0 1,0 -2.00,0zM120.50,94.5a1.0,1.0 0 1,0 2.00,0a1.0,1.0 0 1,0 -2.00,0zM122.50,96.8a1.0,1.0 0 1,0 2.00,0a1.0,1.0 0 1,0 -2.00,0zM124.50,98.6a1.0,1.0 0 1,0 2.00,0a1.0,1.0 0 1,0 -2.00,0zM126.50,101.2a1.0,1.0 0 1,0 2.00,0a1.0,1.0 0 1,0 -2.00,0zM128.50,102.0a1.0,1.0 0 1,0 2.00,0a1.0,1.0 0 1,0 -2.00,0zM130.50,101.7a1.0,1.0 0 1,0 2.00,0a1.0,1.0 0 1,0 -2.00,0zM132.50,98.8a1.0,1.0 0 1,0 2.00,0a1.0,1.0 0 1,0 -2.00,0zM134.50,96.1a1.0,1.0 0 1,0 2.00,0a1.0,1.0 0 1,0 -2.00,0zM136.50,94.2a1.0,1.0 0 1,0 2.00,0a1.0,1.0 0 1,0 -2.00,0zM138.50,92.9a1.0,1.0 0 1,0 2.00,0a1.0,1.0 0 1,0 -2.00,0z" fill="none" stroke="#2a78bc" stroke-width="0.8" opacity="1.0"/>
<path d="M140.05,92.9a1.15,1.15 0 1,0 2.30,0a1.15,1.15 0 1,0 -2.30,0zM141.95,89.8a1.15,1.15 0 1,0 2.30,0a1.15,1.15 0 1,0 -2.30,0zM143.85,89.8a1.15,1.15 0 1,0 2.30,0a1.15,1.15 0 1,0 -2.30,0zM145.75,89.3a1.15,1.15 0 1,0 2.30,0a1.15,1.15 0 1,0 -2.30,0zM147.65,90.1a1.15,1.15 0 1,0 2.30,0a1.15,1.15 0 1,0 -2.30,0zM149.55,85.7a1.15,1.15 0 1,0 2.30,0a1.15,1.15 0 1,0 -2.30,0zM151.45,86.5a1.15,1.15 0 1,0 2.30,0a1.15,1.15 0 1,0 -2.30,0zM153.35,86.5a1.15,1.15 0 1,0 2.30,0a1.15,1.15 0 1,0 -2.30,0zM155.25,88.2a1.15,1.15 0 1,0 2.30,0a1.15,1.15 0 1,0 -2.30,0zM157.15,87.1a1.15,1.15 0 1,0 2.30,0a1.15,1.15 0 1,0 -2.30,0zM159.05,89.7a1.15,1.15 0 1,0 2.30,0a1.15,1.15 0 1,0 -2.30,0zM160.95,88.3a1.15,1.15 0 1,0 2.30,0a1.15,1.15 0 1,0 -2.30,0zM162.85,87.4a1.15,1.15 0 1,0 2.30,0a1.15,1.15 0 1,0 -2.30,0zM164.75,88.4a1.15,1.15 0 1,0 2.30,0a1.15,1.15 0 1,0 -2.30,0zM166.65,90.6a1.15,1.15 0 1,0 2.30,0a1.15,1.15 0 1,0 -2.30,0zM168.55,90.2a1.15,1.15 0 1,0 2.30,0a1.15,1.15 0 1,0 -2.30,0zM170.45,88.6a1.15,1.15 0 1,0 2.30,0a1.15,1.15 0 1,0 -2.30,0zM172.35,91.0a1.15,1.15 0 1,0 2.30,0a1.15,1.15 0 1,0 -2.30,0zM174.25,94.7a1.15,1.15 0 1,0 2.30,0a1.15,1.15 0 1,0 -2.30,0zM176.15,94.1a1.15,1.15 0 1,0 2.30,0a1.15,1.15 0 1,0 -2.30,0zM178.05,96.1a1.15,1.15 0 1,0 2.30,0a1.15,1.15 0 1,0 -2.30,0zM179.95,94.7a1.15,1.15 0 1,0 2.30,0a1.15,1.15 0 1,0 -2.30,0zM181.85,93.7a1.15,1.15 0 1,0 2.30,0a1.15,1.15 0 1,0 -2.30,0zM183.75,94.2a1.15,1.15 0 1,0 2.30,0a1.15,1.15 0 1,0 -2.30,0zM185.65,94.8a1.15,1.15 0 1,0 2.30,0a1.15,1.15 0 1,0 -2.30,0zM187.55,95.6a1.15,1.15 0 1,0 2.30,0a1.15,1.15 0 1,0 -2.30,0zM189.45,97.1a1.15,1.15 0 1,0 2.30,0a1.15,1.15 0 1,0 -2.30,0zM191.35,97.0a1.15,1.15 0 1,0 2.30,0a1.15,1.15 0 1,0 -2.30,0zM193.25,98.2a1.15,1.15 0 1,0 2.30,0a1.15,1.15 0 1,0 -2.30,0zM195.15,100.3a1.15,1.15 0 1,0 2.30,0a1.15,1.15 0 1,0 -2.30,0zM197.05,97.3a1.15,1.15 0 1,0 2.30,0a1.15,1.15 0 1,0 -2.30,0zM198.95,98.4a1.15,1.15 0 1,0 2.30,0a1.15,1.15 0 1,0 -2.30,0zM200.85,95.7a1.15,1.15 0 1,0 2.30,0a1.15,1.15 0 1,0 -2.30,0zM202.75,97.0a1.15,1.15 0 1,0 2.30,0a1.15,1.15 0 1,0 -2.30,0zM204.65,96.7a1.15,1.15 0 1,0 2.30,0a1.15,1.15 0 1,0 -2.30,0zM206.55,99.9a1.15,1.15 0 1,0 2.30,0a1.15,1.15 0 1,0 -2.30,0zM208.45,99.7a1.15,1.15 0 1,0 2.30,0a1.15,1.15 0 1,0 -2.30,0zM210.35,101.0a1.15,1.15 0 1,0 2.30,0a1.15,1.15 0 1,0 -2.30,0zM212.25,100.8a1.15,1.15 0 1,0 2.30,0a1.15,1.15 0 1,0 -2.30,0zM214.15,105.0a1.15,1.15 0 1,0 2.30,0a1.15,1.15 0 1,0 -2.30,0zM216.05,101.9a1.15,1.15 0 1,0 2.30,0a1.15,1.15 0 1,0 -2.30,0zM217.95,99.5a1.15,1.15 0 1,0 2.30,0a1.15,1.15 0 1,0 -2.30,0zM219.85,99.2a1.15,1.15 0 1,0 2.30,0a1.15,1.15 0 1,0 -2.30,0zM221.75,101.2a1.15,1.15 0 1,0 2.30,0a1.15,1.15 0 1,0 -2.30,0zM223.65,105.9a1.15,1.15 0 1,0 2.30,0a1.15,1.15 0 1,0 -2.30,0zM225.55,108.5a1.15,1.15 0 1,0 2.30,0a1.15,1.15 0 1,0 -2.30,0zM227.45,108.6a1.15,1.15 0 1,0 2.30,0a1.15,1.15 0 1,0 -2.30,0zM229.35,108.5a1.15,1.15 0 1,0 2.30,0a1.15,1.15 0 1,0 -2.30,0zM231.25,107.6a1.15,1.15 0 1,0 2.30,0a1.15,1.15 0 1,0 -2.30,0zM233.15,104.1a1.15,1.15 0 1,0 2.30,0a1.15,1.15 0 1,0 -2.30,0zM235.05,111.4a1.15,1.15 0 1,0 2.30,0a1.15,1.15 0 1,0 -2.30,0zM236.95,111.6a1.15,1.15 0 1,0 2.30,0a1.15,1.15 0 1,0 -2.30,0zM238.85,109.3a1.15,1.15 0 1,0 2.30,0a1.15,1.15 0 1,0 -2.30,0zM240.75,106.5a1.15,1.15 0 1,0 2.30,0a1.15,1.15 0 1,0 -2.30,0zM242.65,108.2a1.15,1.15 0 1,0 2.30,0a1.15,1.15 0 1,0 -2.30,0zM244.55,111.6a1.15,1.15 0 1,0 2.30,0a1.15,1.15 0 1,0 -2.30,0zM246.45,113.9a1.15,1.15 0 1,0 2.30,0a1.15,1.15 0 1,0 -2.30,0zM248.35,116.4a1.15,1.15 0 1,0 2.30,0a1.15,1.15 0 1,0 -2.30,0zM250.25,116.2a1.15,1.15 0 1,0 2.30,0a1.15,1.15 0 1,0 -2.30,0zM252.15,112.8a1.15,1.15 0 1,0 2.30,0a1.15,1.15 0 1,0 -2.30,0zM254.05,107.9a1.15,1.15 0 1,0 2.30,0a1.15,1.15 0 1,0 -2.30,0zM255.95,113.3a1.15,1.15 0 1,0 2.30,0a1.15,1.15 0 1,0 -2.30,0zM257.85,113.7a1.15,1.15 0 1,0 2.30,0a1.15,1.15 0 1,0 -2.30,0z" fill="none" stroke="#2a78bc" stroke-width="0.95" opacity="1.0"/>
</g>
<line x1="45.50" y1="62.64" x2="260.51" y2="145.68" stroke="#111" stroke-width="1.2"/>
<rect x="288.50" y="34.40" width="215.01" height="203.00" fill="none" stroke="#6a6a6a" stroke-width="1"/>
<path d="M312.39,237.40v-5.5M312.39,34.40v5.5M360.17,237.40v-5.5M360.17,34.40v5.5M407.95,237.40v-5.5M407.95,34.40v5.5M455.73,237.40v-5.5M455.73,34.40v5.5M288.50,52.85h5.5M503.51,52.85h-5.5M288.50,89.76h5.5M503.51,89.76h-5.5M288.50,126.67h5.5M503.51,126.67h-5.5M288.50,163.58h5.5M503.51,163.58h-5.5M288.50,200.49h5.5M503.51,200.49h-5.5" stroke="#6a6a6a" stroke-width="1" fill="none"/>
<text x="314.09" y="259.40" class="tk" text-anchor="middle" textLength="9.0" lengthAdjust="spacingAndGlyphs">2</text>
<text x="361.87" y="259.40" class="tk" text-anchor="middle" textLength="9.0" lengthAdjust="spacingAndGlyphs">4</text>
<text x="409.65" y="259.40" class="tk" text-anchor="middle" textLength="9.0" lengthAdjust="spacingAndGlyphs">6</text>
<text x="457.43" y="259.40" class="tk" text-anchor="middle" textLength="9.0" lengthAdjust="spacingAndGlyphs">8</text>
<text x="505.21" y="259.40" class="tk" text-anchor="middle" textLength="17.5" lengthAdjust="spacingAndGlyphs">10</text>
<text x="396.00" y="12.80" class="ti" text-anchor="middle" textLength="126" lengthAdjust="spacingAndGlyphs">Time to collision</text>
<text x="395.90" y="284.70" class="xl" text-anchor="middle" textLength="35" lengthAdjust="spacingAndGlyphs">ln(r)</text>
<text x="352.80" y="211.70" class="lg" text-anchor="end" textLength="57.5" lengthAdjust="spacingAndGlyphs">Disordered</text>
<text x="353.00" y="227.60" class="lg" text-anchor="end" textLength="38.5" lengthAdjust="spacingAndGlyphs">Critical</text>
<text x="452.50" y="211.70" class="lg" text-anchor="end" textLength="25" lengthAdjust="spacingAndGlyphs">Lane</text>
<text x="452.70" y="227.60" class="lg" text-anchor="end" textLength="17.5" lengthAdjust="spacingAndGlyphs">OZ</text>
<line x1="358.10" y1="206.8" x2="385.60" y2="206.8" stroke="#e4463f" stroke-width="1" stroke-dasharray="3.6 4" opacity="0.6"/>
<circle cx="373.60" cy="206.80" r="1.25" fill="none" stroke="#e4463f" stroke-width="1.0" opacity="0.85"/>
<line x1="358.10" y1="222.8" x2="385.60" y2="222.8" stroke="#2a78bc" stroke-width="1" stroke-dasharray="3.6 4" opacity="0.6"/>
<circle cx="373.60" cy="222.80" r="1.25" fill="none" stroke="#2a78bc" stroke-width="1.0" opacity="0.85"/>
<line x1="457.90" y1="206.8" x2="485.40" y2="206.8" stroke="#1a9c72" stroke-width="1" stroke-dasharray="3.6 4" opacity="0.6"/>
<path d="M473.40,205.10l1.4,2.6h-2.8z" fill="none" stroke="#1a9c72" stroke-width="1.0" opacity="0.85"/>
<line x1="458.60" y1="223" x2="488.00" y2="223" stroke="#555" stroke-width="1.6"/>
<g clip-path="url(#c1)">
<path d="M289.0,31.4L290.2,123.0L292.6,37.6L294.4,29.5L296.2,28.0L298.0,30.1L299.8,33.7L301.6,49.2L303.4,59.3L305.2,69.4L307.0,71.0L308.8,67.8L310.6,62.6L312.4,60.5L314.2,62.2L316.0,66.2L317.6,144.0L319.6,69.2L321.4,62.5L323.2,61.6L325.0,63.0L326.8,67.9L328.6,71.9L330.4,76.9L332.9,108.3L334.3,87.3L335.8,89.1L336.6,104.5L337.9,108.0L339.6,97.8L340.5,91.6L342.8,110.9L344.0,144.0L345.2,113.5L347.1,132.6L348.0,102.6L349.8,96.3L350.6,118.6L351.5,117.9L353.0,116.8L354.4,111.5L355.5,123.3L356.5,101.7L358.1,117.9L359.5,118.5L360.5,120.5L361.7,110.2L363.2,130.4L364.4,169.8L365.6,139.8L367.7,132.2L369.0,117.4L369.8,124.7L371.0,135.5L372.2,112.1L373.7,111.4L375.4,119.2L376.8,110.2L377.9,114.6L379.6,128.1L380.9,105.6L382.9,109.2L384.3,107.2L385.5,102.9L387.0,125.1L388.2,143.1L389.4,123.7L391.2,123.1L392.8,126.3L393.9,135.8L394.7,134.9L395.9,155.5L397.3,134.8L398.5,147.0L399.7,124.1L400.7,129.3L402.0,112.0L403.4,122.5L404.6,133.5L405.8,120.3L407.7,130.9L409.2,125.8L410.4,139.3L411.6,129.0L412.9,124.7L414.4,135.8L415.3,131.8L416.8,133.2L418.0,150.7L419.2,128.0L421.3,140.8L422.5,138.2L423.7,150.7L424.9,125.8L426.4,124.3L427.3,147.0L428.5,163.2L429.7,141.0L430.5,125.7L432.4,127.2L433.7,134.9L435.0,135.4L436.2,165.0L437.4,149.0L438.5,122.2L439.8,127.8L440.7,140.0L442.6,142.1L443.8,157.4L445.0,135.5L446.0,121.3L447.2,134.0L449.2,133.9L449.9,138.0L451.4,128.1L453.1,148.2L454.3,168.0L455.5,132.2L456.4,129.3L457.7,122.9L459.3,126.8L460.9,117.3L462.6,142.2L463.8,176.5L464.9,170.0L466.1,195.9L467.3,151.1L468.5,121.8L469.9,135.0L471.1,128.9L472.2,154.6L473.4,171.7L474.6,145.3L476.3,138.4L477.3,124.0L479.8,145.9L481.0,166.0L481.8,133.0L483.0,159.3L484.2,144.8L485.5,128.1L486.8,127.4L487.9,138.3L489.4,136.5L490.6,152.6L491.8,128.9L493.5,133.9L494.9,139.6L497.0,138.1L498.2,169.8L499.4,149.6L500.3,117.6L501.9,140.6" fill="none" stroke="#e4463f" stroke-width="0.75" stroke-dasharray="3.4 3.6" opacity="0.9"/>
<path d="M287.90,31.4a1.1,1.1 0 1,0 2.20,0a1.1,1.1 0 1,0 -2.20,0zM289.10,123.0a1.1,1.1 0 1,0 2.20,0a1.1,1.1 0 1,0 -2.20,0zM291.50,37.6a1.1,1.1 0 1,0 2.20,0a1.1,1.1 0 1,0 -2.20,0zM298.70,33.7a1.1,1.1 0 1,0 2.20,0a1.1,1.1 0 1,0 -2.20,0zM300.50,49.2a1.1,1.1 0 1,0 2.20,0a1.1,1.1 0 1,0 -2.20,0zM302.30,59.3a1.1,1.1 0 1,0 2.20,0a1.1,1.1 0 1,0 -2.20,0zM304.10,69.4a1.1,1.1 0 1,0 2.20,0a1.1,1.1 0 1,0 -2.20,0zM305.90,71.0a1.1,1.1 0 1,0 2.20,0a1.1,1.1 0 1,0 -2.20,0zM307.70,67.8a1.1,1.1 0 1,0 2.20,0a1.1,1.1 0 1,0 -2.20,0zM309.50,62.6a1.1,1.1 0 1,0 2.20,0a1.1,1.1 0 1,0 -2.20,0zM311.30,60.5a1.1,1.1 0 1,0 2.20,0a1.1,1.1 0 1,0 -2.20,0zM313.10,62.2a1.1,1.1 0 1,0 2.20,0a1.1,1.1 0 1,0 -2.20,0zM314.90,66.2a1.1,1.1 0 1,0 2.20,0a1.1,1.1 0 1,0 -2.20,0zM316.50,144.0a1.1,1.1 0 1,0 2.20,0a1.1,1.1 0 1,0 -2.20,0zM318.50,69.2a1.1,1.1 0 1,0 2.20,0a1.1,1.1 0 1,0 -2.20,0zM320.30,62.5a1.1,1.1 0 1,0 2.20,0a1.1,1.1 0 1,0 -2.20,0zM322.10,61.6a1.1,1.1 0 1,0 2.20,0a1.1,1.1 0 1,0 -2.20,0zM323.90,63.0a1.1,1.1 0 1,0 2.20,0a1.1,1.1 0 1,0 -2.20,0zM325.70,67.9a1.1,1.1 0 1,0 2.20,0a1.1,1.1 0 1,0 -2.20,0zM327.50,71.9a1.1,1.1 0 1,0 2.20,0a1.1,1.1 0 1,0 -2.20,0zM329.30,76.9a1.1,1.1 0 1,0 2.20,0a1.1,1.1 0 1,0 -2.20,0z" fill="none" stroke="#e4463f" stroke-width="0.8" opacity="1.0"/>
<path d="M331.64,108.3a1.3,1.3 0 1,0 2.60,0a1.3,1.3 0 1,0 -2.60,0zM332.98,87.3a1.3,1.3 0 1,0 2.60,0a1.3,1.3 0 1,0 -2.60,0zM334.49,89.1a1.3,1.3 0 1,0 2.60,0a1.3,1.3 0 1,0 -2.60,0zM335.27,104.5a1.3,1.3 0 1,0 2.60,0a1.3,1.3 0 1,0 -2.60,0zM336.61,108.0a1.3,1.3 0 1,0 2.60,0a1.3,1.3 0 1,0 -2.60,0zM338.26,97.8a1.3,1.3 0 1,0 2.60,0a1.3,1.3 0 1,0 -2.60,0zM339.24,91.6a1.3,1.3 0 1,0 2.60,0a1.3,1.3 0 1,0 -2.60,0zM341.49,110.9a1.3,1.3 0 1,0 2.60,0a1.3,1.3 0 1,0 -2.60,0zM342.70,144.0a1.3,1.3 0 1,0 2.60,0a1.3,1.3 0 1,0 -2.60,0zM343.91,113.5a1.3,1.3 0 1,0 2.60,0a1.3,1.3 0 1,0 -2.60,0zM345.85,132.6a1.3,1.3 0 1,0 2.60,0a1.3,1.3 0 1,0 -2.60,0zM346.73,102.6a1.3,1.3 0 1,0 2.60,0a1.3,1.3 0 1,0 -2.60,0zM348.48,96.3a1.3,1.3 0 1,0 2.60,0a1.3,1.3 0 1,0 -2.60,0zM349.25,118.6a1.3,1.3 0 1,0 2.60,0a1.3,1.3 0 1,0 -2.60,0zM350.20,117.9a1.3,1.3 0 1,0 2.60,0a1.3,1.3 0 1,0 -2.60,0zM351.66,116.8a1.3,1.3 0 1,0 2.60,0a1.3,1.3 0 1,0 -2.60,0zM353.07,111.5a1.3,1.3 0 1,0 2.60,0a1.3,1.3 0 1,0 -2.60,0zM354.22,123.3a1.3,1.3 0 1,0 2.60,0a1.3,1.3 0 1,0 -2.60,0zM355.18,101.7a1.3,1.3 0 1,0 2.60,0a1.3,1.3 0 1,0 -2.60,0zM356.78,117.9a1.3,1.3 0 1,0 2.60,0a1.3,1.3 0 1,0 -2.60,0zM358.15,118.5a1.3,1.3 0 1,0 2.60,0a1.3,1.3 0 1,0 -2.60,0zM359.22,120.5a1.3,1.3 0 1,0 2.60,0a1.3,1.3 0 1,0 -2.60,0zM360.42,110.2a1.3,1.3 0 1,0 2.60,0a1.3,1.3 0 1,0 -2.60,0zM361.88,130.4a1.3,1.3 0 1,0 2.60,0a1.3,1.3 0 1,0 -2.60,0zM363.10,169.8a1.3,1.3 0 1,0 2.60,0a1.3,1.3 0 1,0 -2.60,0zM364.31,139.8a1.3,1.3 0 1,0 2.60,0a1.3,1.3 0 1,0 -2.60,0zM366.37,132.2a1.3,1.3 0 1,0 2.60,0a1.3,1.3 0 1,0 -2.60,0zM367.67,117.4a1.3,1.3 0 1,0 2.60,0a1.3,1.3 0 1,0 -2.60,0zM368.49,124.7a1.3,1.3 0 1,0 2.60,0a1.3,1.3 0 1,0 -2.60,0zM369.70,135.5a1.3,1.3 0 1,0 2.60,0a1.3,1.3 0 1,0 -2.60,0zM370.91,112.1a1.3,1.3 0 1,0 2.60,0a1.3,1.3 0 1,0 -2.60,0zM372.41,111.4a1.3,1.3 0 1,0 2.60,0a1.3,1.3 0 1,0 -2.60,0zM374.12,119.2a1.3,1.3 0 1,0 2.60,0a1.3,1.3 0 1,0 -2.60,0zM375.53,110.2a1.3,1.3 0 1,0 2.60,0a1.3,1.3 0 1,0 -2.60,0zM376.62,114.6a1.3,1.3 0 1,0 2.60,0a1.3,1.3 0 1,0 -2.60,0zM378.31,128.1a1.3,1.3 0 1,0 2.60,0a1.3,1.3 0 1,0 -2.60,0zM379.60,105.6a1.3,1.3 0 1,0 2.60,0a1.3,1.3 0 1,0 -2.60,0zM381.61,109.2a1.3,1.3 0 1,0 2.60,0a1.3,1.3 0 1,0 -2.60,0zM382.98,107.2a1.3,1.3 0 1,0 2.60,0a1.3,1.3 0 1,0 -2.60,0zM384.24,102.9a1.3,1.3 0 1,0 2.60,0a1.3,1.3 0 1,0 -2.60,0zM385.69,125.1a1.3,1.3 0 1,0 2.60,0a1.3,1.3 0 1,0 -2.60,0zM386.90,143.1a1.3,1.3 0 1,0 2.60,0a1.3,1.3 0 1,0 -2.60,0zM388.11,123.7a1.3,1.3 0 1,0 2.60,0a1.3,1.3 0 1,0 -2.60,0zM389.92,123.1a1.3,1.3 0 1,0 2.60,0a1.3,1.3 0 1,0 -2.60,0zM391.54,126.3a1.3,1.3 0 1,0 2.60,0a1.3,1.3 0 1,0 -2.60,0zM392.57,135.8a1.3,1.3 0 1,0 2.60,0a1.3,1.3 0 1,0 -2.60,0zM393.38,134.9a1.3,1.3 0 1,0 2.60,0a1.3,1.3 0 1,0 -2.60,0zM394.60,155.5a1.3,1.3 0 1,0 2.60,0a1.3,1.3 0 1,0 -2.60,0zM395.99,134.8a1.3,1.3 0 1,0 2.60,0a1.3,1.3 0 1,0 -2.60,0zM397.20,147.0a1.3,1.3 0 1,0 2.60,0a1.3,1.3 0 1,0 -2.60,0zM398.41,124.1a1.3,1.3 0 1,0 2.60,0a1.3,1.3 0 1,0 -2.60,0zM399.36,129.3a1.3,1.3 0 1,0 2.60,0a1.3,1.3 0 1,0 -2.60,0zM400.68,112.0a1.3,1.3 0 1,0 2.60,0a1.3,1.3 0 1,0 -2.60,0zM402.09,122.5a1.3,1.3 0 1,0 2.60,0a1.3,1.3 0 1,0 -2.60,0zM403.30,133.5a1.3,1.3 0 1,0 2.60,0a1.3,1.3 0 1,0 -2.60,0zM404.51,120.3a1.3,1.3 0 1,0 2.60,0a1.3,1.3 0 1,0 -2.60,0zM406.36,130.9a1.3,1.3 0 1,0 2.60,0a1.3,1.3 0 1,0 -2.60,0zM407.88,125.8a1.3,1.3 0 1,0 2.60,0a1.3,1.3 0 1,0 -2.60,0zM409.10,139.3a1.3,1.3 0 1,0 2.60,0a1.3,1.3 0 1,0 -2.60,0zM410.31,129.0a1.3,1.3 0 1,0 2.60,0a1.3,1.3 0 1,0 -2.60,0zM411.59,124.7a1.3,1.3 0 1,0 2.60,0a1.3,1.3 0 1,0 -2.60,0zM413.14,135.8a1.3,1.3 0 1,0 2.60,0a1.3,1.3 0 1,0 -2.60,0zM414.03,131.8a1.3,1.3 0 1,0 2.60,0a1.3,1.3 0 1,0 -2.60,0zM415.49,133.2a1.3,1.3 0 1,0 2.60,0a1.3,1.3 0 1,0 -2.60,0zM416.70,150.7a1.3,1.3 0 1,0 2.60,0a1.3,1.3 0 1,0 -2.60,0zM417.91,128.0a1.3,1.3 0 1,0 2.60,0a1.3,1.3 0 1,0 -2.60,0zM419.95,140.8a1.3,1.3 0 1,0 2.60,0a1.3,1.3 0 1,0 -2.60,0zM421.19,138.2a1.3,1.3 0 1,0 2.60,0a1.3,1.3 0 1,0 -2.60,0zM422.40,150.7a1.3,1.3 0 1,0 2.60,0a1.3,1.3 0 1,0 -2.60,0zM423.61,125.8a1.3,1.3 0 1,0 2.60,0a1.3,1.3 0 1,0 -2.60,0zM425.14,124.3a1.3,1.3 0 1,0 2.60,0a1.3,1.3 0 1,0 -2.60,0zM425.99,147.0a1.3,1.3 0 1,0 2.60,0a1.3,1.3 0 1,0 -2.60,0zM427.20,163.2a1.3,1.3 0 1,0 2.60,0a1.3,1.3 0 1,0 -2.60,0zM428.41,141.0a1.3,1.3 0 1,0 2.60,0a1.3,1.3 0 1,0 -2.60,0zM429.21,125.7a1.3,1.3 0 1,0 2.60,0a1.3,1.3 0 1,0 -2.60,0zM431.12,127.2a1.3,1.3 0 1,0 2.60,0a1.3,1.3 0 1,0 -2.60,0zM432.39,134.9a1.3,1.3 0 1,0 2.60,0a1.3,1.3 0 1,0 -2.60,0zM433.69,135.4a1.3,1.3 0 1,0 2.60,0a1.3,1.3 0 1,0 -2.60,0zM434.90,165.0a1.3,1.3 0 1,0 2.60,0a1.3,1.3 0 1,0 -2.60,0zM436.11,149.0a1.3,1.3 0 1,0 2.60,0a1.3,1.3 0 1,0 -2.60,0zM437.19,122.2a1.3,1.3 0 1,0 2.60,0a1.3,1.3 0 1,0 -2.60,0zM438.52,127.8a1.3,1.3 0 1,0 2.60,0a1.3,1.3 0 1,0 -2.60,0zM439.35,140.0a1.3,1.3 0 1,0 2.60,0a1.3,1.3 0 1,0 -2.60,0zM441.29,142.1a1.3,1.3 0 1,0 2.60,0a1.3,1.3 0 1,0 -2.60,0zM442.50,157.4a1.3,1.3 0 1,0 2.60,0a1.3,1.3 0 1,0 -2.60,0zM443.71,135.5a1.3,1.3 0 1,0 2.60,0a1.3,1.3 0 1,0 -2.60,0zM444.65,121.3a1.3,1.3 0 1,0 2.60,0a1.3,1.3 0 1,0 -2.60,0zM445.92,134.0a1.3,1.3 0 1,0 2.60,0a1.3,1.3 0 1,0 -2.60,0zM447.90,133.9a1.3,1.3 0 1,0 2.60,0a1.3,1.3 0 1,0 -2.60,0zM448.63,138.0a1.3,1.3 0 1,0 2.60,0a1.3,1.3 0 1,0 -2.60,0zM450.08,128.1a1.3,1.3 0 1,0 2.60,0a1.3,1.3 0 1,0 -2.60,0zM451.79,148.2a1.3,1.3 0 1,0 2.60,0a1.3,1.3 0 1,0 -2.60,0zM453.00,168.0a1.3,1.3 0 1,0 2.60,0a1.3,1.3 0 1,0 -2.60,0zM454.21,132.2a1.3,1.3 0 1,0 2.60,0a1.3,1.3 0 1,0 -2.60,0zM455.12,129.3a1.3,1.3 0 1,0 2.60,0a1.3,1.3 0 1,0 -2.60,0zM456.45,122.9a1.3,1.3 0 1,0 2.60,0a1.3,1.3 0 1,0 -2.60,0zM458.05,126.8a1.3,1.3 0 1,0 2.60,0a1.3,1.3 0 1,0 -2.60,0zM459.58,117.3a1.3,1.3 0 1,0 2.60,0a1.3,1.3 0 1,0 -2.60,0zM461.29,142.2a1.3,1.3 0 1,0 2.60,0a1.3,1.3 0 1,0 -2.60,0zM462.50,176.5a1.3,1.3 0 1,0 2.60,0a1.3,1.3 0 1,0 -2.60,0zM463.59,170.0a1.3,1.3 0 1,0 2.60,0a1.3,1.3 0 1,0 -2.60,0zM464.80,195.9a1.3,1.3 0 1,0 2.60,0a1.3,1.3 0 1,0 -2.60,0zM466.01,151.1a1.3,1.3 0 1,0 2.60,0a1.3,1.3 0 1,0 -2.60,0zM467.17,121.8a1.3,1.3 0 1,0 2.60,0a1.3,1.3 0 1,0 -2.60,0zM468.58,135.0a1.3,1.3 0 1,0 2.60,0a1.3,1.3 0 1,0 -2.60,0zM469.77,128.9a1.3,1.3 0 1,0 2.60,0a1.3,1.3 0 1,0 -2.60,0zM470.88,154.6a1.3,1.3 0 1,0 2.60,0a1.3,1.3 0 1,0 -2.60,0zM472.10,171.7a1.3,1.3 0 1,0 2.60,0a1.3,1.3 0 1,0 -2.60,0zM473.31,145.3a1.3,1.3 0 1,0 2.60,0a1.3,1.3 0 1,0 -2.60,0zM474.97,138.4a1.3,1.3 0 1,0 2.60,0a1.3,1.3 0 1,0 -2.60,0zM475.98,124.0a1.3,1.3 0 1,0 2.60,0a1.3,1.3 0 1,0 -2.60,0zM478.49,145.9a1.3,1.3 0 1,0 2.60,0a1.3,1.3 0 1,0 -2.60,0zM479.70,166.0a1.3,1.3 0 1,0 2.60,0a1.3,1.3 0 1,0 -2.60,0zM480.49,133.0a1.3,1.3 0 1,0 2.60,0a1.3,1.3 0 1,0 -2.60,0zM481.70,159.3a1.3,1.3 0 1,0 2.60,0a1.3,1.3 0 1,0 -2.60,0zM482.91,144.8a1.3,1.3 0 1,0 2.60,0a1.3,1.3 0 1,0 -2.60,0zM484.25,128.1a1.3,1.3 0 1,0 2.60,0a1.3,1.3 0 1,0 -2.60,0zM485.49,127.4a1.3,1.3 0 1,0 2.60,0a1.3,1.3 0 1,0 -2.60,0zM486.60,138.3a1.3,1.3 0 1,0 2.60,0a1.3,1.3 0 1,0 -2.60,0zM488.09,136.5a1.3,1.3 0 1,0 2.60,0a1.3,1.3 0 1,0 -2.60,0zM489.30,152.6a1.3,1.3 0 1,0 2.60,0a1.3,1.3 0 1,0 -2.60,0zM490.51,128.9a1.3,1.3 0 1,0 2.60,0a1.3,1.3 0 1,0 -2.60,0zM492.22,133.9a1.3,1.3 0 1,0 2.60,0a1.3,1.3 0 1,0 -2.60,0zM493.57,139.6a1.3,1.3 0 1,0 2.60,0a1.3,1.3 0 1,0 -2.60,0zM495.69,138.1a1.3,1.3 0 1,0 2.60,0a1.3,1.3 0 1,0 -2.60,0zM496.90,169.8a1.3,1.3 0 1,0 2.60,0a1.3,1.3 0 1,0 -2.60,0zM498.11,149.6a1.3,1.3 0 1,0 2.60,0a1.3,1.3 0 1,0 -2.60,0zM499.03,117.6a1.3,1.3 0 1,0 2.60,0a1.3,1.3 0 1,0 -2.60,0zM500.63,140.6a1.3,1.3 0 1,0 2.60,0a1.3,1.3 0 1,0 -2.60,0z" fill="none" stroke="#e4463f" stroke-width="0.9" opacity="1.0"/>
<path d="M289.5,30.4L291.7,28.9L293.9,28.4L296.1,28.3L298.3,33.9L300.5,41.2L303.0,92.0L304.9,53.9L307.1,48.4L309.3,49.4L311.5,50.5L313.7,57.9L315.9,66.7L318.1,48.4L320.3,42.2L322.5,40.5L324.7,44.7L326.9,53.2L328.0,110.0L329.1,70.7L331.3,75.8L333.5,76.1L335.0,100.0L337.9,77.3L340.1,78.3L342.4,143.1L344.5,75.1L347.0,112.0L348.9,67.7L351.1,66.8L353.3,70.9L355.5,78.1L357.7,83.4L360.5,143.1L362.1,89.7L364.3,93.4L367.0,118.0L368.7,91.9L370.9,90.0L374.0,104.0L375.3,81.9L377.5,79.7L379.7,81.2L381.9,83.3L384.1,90.8L386.3,146.0L388.5,96.4L390.7,98.5L392.9,118.2L394.5,120.2L396.4,118.0L397.6,124.5L399.3,119.8L401.2,120.1L402.6,96.6L404.4,95.9L406.8,104.2L407.9,132.7L409.4,187.7L410.9,142.2L411.9,95.2L413.3,99.6L415.3,119.8L417.1,98.3L419.1,110.7L420.4,98.2L422.2,113.2L423.8,97.7L425.5,97.4L427.2,117.4L428.5,115.8L430.0,135.0L431.5,115.4L434.1,113.5L435.1,119.4L437.0,123.2L438.9,126.9L440.4,122.8L442.6,106.4L444.2,123.3L445.9,113.9L447.9,94.8L449.4,111.6L451.2,109.2L452.7,96.5L455.0,97.3L456.5,121.0L458.0,140.0L459.5,115.8L462.4,124.1L463.4,106.5L465.8,109.9L467.9,131.3L469.5,118.6L470.7,100.6L472.4,115.0L473.5,116.3L475.0,132.0L476.5,107.8L478.8,100.2L480.7,99.6L482.7,105.9L484.2,128.9L485.6,127.7L488.1,129.1L489.5,140.8L491.7,109.7L492.9,121.5L494.4,160.3L495.9,139.4L497.0,96.3L498.8,100.7L501.0,127.6L502.8,128.6" fill="none" stroke="#1a9c72" stroke-width="0.75" stroke-dasharray="3.4 3.6" opacity="0.9"/>
<path d="M298.3,32.7l1.10,2.10h-2.20zM300.5,40.0l1.10,2.10h-2.20zM303.0,90.8l1.10,2.10h-2.20zM304.9,52.6l1.10,2.10h-2.20zM307.1,47.2l1.10,2.10h-2.20zM309.3,48.2l1.10,2.10h-2.20zM311.5,49.2l1.10,2.10h-2.20zM313.7,56.7l1.10,2.10h-2.20zM315.9,65.4l1.10,2.10h-2.20zM318.1,47.1l1.10,2.10h-2.20zM320.3,41.0l1.10,2.10h-2.20zM322.5,39.2l1.10,2.10h-2.20zM324.7,43.4l1.10,2.10h-2.20zM326.9,51.9l1.10,2.10h-2.20zM328.0,108.8l1.10,2.10h-2.20zM329.1,69.4l1.10,2.10h-2.20zM331.3,74.5l1.10,2.10h-2.20zM333.5,74.9l1.10,2.10h-2.20zM335.0,98.8l1.10,2.10h-2.20zM337.9,76.1l1.10,2.10h-2.20zM340.1,77.1l1.10,2.10h-2.20zM342.4,141.8l1.10,2.10h-2.20zM344.5,73.9l1.10,2.10h-2.20zM347.0,110.8l1.10,2.10h-2.20zM348.9,66.4l1.10,2.10h-2.20zM351.1,65.6l1.10,2.10h-2.20zM353.3,69.7l1.10,2.10h-2.20zM355.5,76.8l1.10,2.10h-2.20zM357.7,82.1l1.10,2.10h-2.20zM360.5,141.8l1.10,2.10h-2.20zM362.1,88.5l1.10,2.10h-2.20zM364.3,92.2l1.10,2.10h-2.20zM367.0,116.8l1.10,2.10h-2.20zM368.7,90.7l1.10,2.10h-2.20zM370.9,88.7l1.10,2.10h-2.20zM374.0,102.8l1.10,2.10h-2.20zM375.3,80.7l1.10,2.10h-2.20zM377.5,78.4l1.10,2.10h-2.20zM379.7,79.9l1.10,2.10h-2.20zM381.9,82.0l1.10,2.10h-2.20zM384.1,89.5l1.10,2.10h-2.20zM386.3,144.8l1.10,2.10h-2.20zM388.5,95.1l1.10,2.10h-2.20zM390.7,97.2l1.10,2.10h-2.20z" fill="none" stroke="#1a9c72" stroke-width="0.9" opacity="1.0"/>
<path d="M392.9,116.6l1.43,2.73h-2.86zM394.5,118.5l1.43,2.73h-2.86zM396.4,116.4l1.43,2.73h-2.86zM397.6,122.9l1.43,2.73h-2.86zM399.3,118.2l1.43,2.73h-2.86zM401.2,118.5l1.43,2.73h-2.86zM402.6,95.0l1.43,2.73h-2.86zM404.4,94.2l1.43,2.73h-2.86zM406.8,102.6l1.43,2.73h-2.86zM407.9,131.1l1.43,2.73h-2.86zM409.4,186.1l1.43,2.73h-2.86zM410.9,140.6l1.43,2.73h-2.86zM411.9,93.6l1.43,2.73h-2.86zM413.3,98.0l1.43,2.73h-2.86zM415.3,118.2l1.43,2.73h-2.86zM417.1,96.7l1.43,2.73h-2.86zM419.1,109.1l1.43,2.73h-2.86zM420.4,96.5l1.43,2.73h-2.86zM422.2,111.6l1.43,2.73h-2.86zM423.8,96.1l1.43,2.73h-2.86zM425.5,95.8l1.43,2.73h-2.86zM427.2,115.7l1.43,2.73h-2.86zM428.5,114.2l1.43,2.73h-2.86zM430.0,133.4l1.43,2.73h-2.86zM431.5,113.8l1.43,2.73h-2.86zM434.1,111.8l1.43,2.73h-2.86zM435.1,117.7l1.43,2.73h-2.86zM437.0,121.6l1.43,2.73h-2.86zM438.9,125.3l1.43,2.73h-2.86zM440.4,121.2l1.43,2.73h-2.86zM442.6,104.8l1.43,2.73h-2.86zM444.2,121.7l1.43,2.73h-2.86zM445.9,112.3l1.43,2.73h-2.86zM447.9,93.2l1.43,2.73h-2.86zM449.4,110.0l1.43,2.73h-2.86zM451.2,107.6l1.43,2.73h-2.86zM452.7,94.9l1.43,2.73h-2.86zM455.0,95.6l1.43,2.73h-2.86zM456.5,119.4l1.43,2.73h-2.86zM458.0,138.4l1.43,2.73h-2.86zM459.5,114.2l1.43,2.73h-2.86zM462.4,122.5l1.43,2.73h-2.86zM463.4,104.9l1.43,2.73h-2.86zM465.8,108.2l1.43,2.73h-2.86zM467.9,129.7l1.43,2.73h-2.86zM469.5,117.0l1.43,2.73h-2.86zM470.7,99.0l1.43,2.73h-2.86zM472.4,113.4l1.43,2.73h-2.86zM473.5,114.7l1.43,2.73h-2.86zM475.0,130.4l1.43,2.73h-2.86zM476.5,106.2l1.43,2.73h-2.86zM478.8,98.6l1.43,2.73h-2.86zM480.7,97.9l1.43,2.73h-2.86zM482.7,104.3l1.43,2.73h-2.86zM484.2,127.3l1.43,2.73h-2.86zM485.6,126.1l1.43,2.73h-2.86zM488.1,127.5l1.43,2.73h-2.86zM489.5,139.2l1.43,2.73h-2.86zM491.7,108.1l1.43,2.73h-2.86zM492.9,119.9l1.43,2.73h-2.86zM494.4,158.7l1.43,2.73h-2.86zM495.9,137.8l1.43,2.73h-2.86zM497.0,94.7l1.43,2.73h-2.86zM498.8,99.1l1.43,2.73h-2.86zM501.0,125.9l1.43,2.73h-2.86zM502.8,127.0l1.43,2.73h-2.86z" fill="none" stroke="#1a9c72" stroke-width="0.9" opacity="1.0"/>
<path d="M289.0,52.8L290.3,78.0L292.8,45.3L294.7,48.0L296.6,53.8L298.5,61.7L300.4,64.6L302.3,73.1L304.2,83.7L306.1,108.8L308.0,112.4L309.0,138.3L309.9,115.5L311.8,121.2L313.7,114.2L315.6,138.3L317.5,91.0L319.4,78.0L321.3,74.9L323.2,75.5L325.1,76.7L327.0,77.3L328.9,77.5L330.8,79.9L332.0,83.3L333.0,83.4L334.0,86.3L335.0,87.2L336.0,88.4L337.0,91.2L338.0,91.6L339.0,92.1L340.0,94.2L341.0,93.9L342.0,93.4L343.0,91.3L344.0,90.4L345.0,89.8L346.0,88.5L347.0,88.7L348.0,87.9L349.0,87.6L350.0,86.8L351.0,86.0L352.0,87.2L353.0,85.6L354.0,85.7L355.0,86.2L356.0,85.5L357.0,86.7L358.0,86.7L359.0,86.0L360.0,85.4L361.0,85.9L362.0,86.3L363.0,87.1L364.0,86.7L365.0,87.7L366.0,88.0L367.0,88.6L368.0,86.8L369.0,87.9L370.0,88.7L371.0,88.3L372.0,88.7L373.0,88.4L374.0,88.7L375.0,88.7L376.0,90.0L377.0,90.0L378.0,89.1L379.0,89.2L380.0,90.9L381.0,89.1L382.0,89.3L383.0,88.9L384.0,90.4L385.0,89.8L386.0,90.3L387.0,89.7L388.0,90.5L389.0,90.3L390.0,90.4L391.0,90.2L392.0,90.2L393.0,91.3L394.0,90.3L395.0,91.5L396.0,90.6L397.0,92.4L398.0,92.0L399.0,92.4L400.0,92.1L401.0,92.5L402.0,91.6L403.0,92.9L404.0,92.1L405.0,92.7L406.0,92.1L407.0,92.4L408.0,93.6L409.0,92.5L410.0,93.2L411.0,93.4L412.0,92.8L413.0,94.1L414.0,93.4L415.0,92.6L416.0,94.5L417.0,93.4L418.0,94.0L419.0,93.7L420.0,93.9L421.0,94.8L422.0,94.6L423.0,94.4L424.0,95.4L425.0,94.2L426.0,95.0L427.0,94.4L428.0,95.9L429.0,94.9L430.0,95.5L431.0,95.6L432.0,96.4L433.0,95.3L434.0,96.1L435.0,95.8L436.0,95.9L437.0,96.0L438.0,96.0L439.0,96.1L440.0,96.6L441.0,96.2L442.0,97.5L443.0,97.8L444.0,97.1L445.0,96.1L446.0,96.9L447.0,95.7L448.0,96.9L449.0,97.4L450.0,97.7L451.0,97.6L452.0,98.1L453.0,97.6L454.0,98.6L455.0,96.1L456.0,97.0L457.0,98.5L458.0,97.5L459.0,98.5L460.0,98.2L461.0,97.9L462.0,97.8L463.0,98.3L464.0,98.5L465.0,99.3L466.0,99.4L467.0,99.1L468.0,99.1L469.0,99.5L470.0,99.1L471.0,99.4L472.0,100.5L473.0,99.7L474.0,99.9L475.0,99.7L476.0,99.6L477.0,100.0L478.0,101.8L479.0,101.2L480.0,100.0L481.0,100.5L482.0,101.2L483.0,102.2L484.0,101.9L485.0,103.5L486.0,102.2L487.0,103.8L488.0,103.1L489.0,103.1L490.0,103.5L491.0,103.5L492.0,103.9L493.0,103.1L494.0,103.4L495.0,103.8L496.0,105.4L497.0,104.6L498.0,105.2L499.0,106.4L500.0,106.5L501.0,104.8L502.0,106.8L503.0,106.6" fill="none" stroke="#2a78bc" stroke-width="0.75" stroke-dasharray="3.4 3.6" opacity="0.9"/>
<path d="M288.10,52.8a0.9,0.9 0 1,0 1.80,0a0.9,0.9 0 1,0 -1.80,0zM289.40,78.0a0.9,0.9 0 1,0 1.80,0a0.9,0.9 0 1,0 -1.80,0zM291.90,45.3a0.9,0.9 0 1,0 1.80,0a0.9,0.9 0 1,0 -1.80,0zM293.80,48.0a0.9,0.9 0 1,0 1.80,0a0.9,0.9 0 1,0 -1.80,0zM295.70,53.8a0.9,0.9 0 1,0 1.80,0a0.9,0.9 0 1,0 -1.80,0zM297.60,61.7a0.9,0.9 0 1,0 1.80,0a0.9,0.9 0 1,0 -1.80,0zM299.50,64.6a0.9,0.9 0 1,0 1.80,0a0.9,0.9 0 1,0 -1.80,0zM301.40,73.1a0.9,0.9 0 1,0 1.80,0a0.9,0.9 0 1,0 -1.80,0zM303.30,83.7a0.9,0.9 0 1,0 1.80,0a0.9,0.9 0 1,0 -1.80,0zM305.20,108.8a0.9,0.9 0 1,0 1.80,0a0.9,0.9 0 1,0 -1.80,0zM307.10,112.4a0.9,0.9 0 1,0 1.80,0a0.9,0.9 0 1,0 -1.80,0zM308.10,138.3a0.9,0.9 0 1,0 1.80,0a0.9,0.9 0 1,0 -1.80,0zM309.00,115.5a0.9,0.9 0 1,0 1.80,0a0.9,0.9 0 1,0 -1.80,0zM310.90,121.2a0.9,0.9 0 1,0 1.80,0a0.9,0.9 0 1,0 -1.80,0zM312.80,114.2a0.9,0.9 0 1,0 1.80,0a0.9,0.9 0 1,0 -1.80,0zM314.70,138.3a0.9,0.9 0 1,0 1.80,0a0.9,0.9 0 1,0 -1.80,0zM316.60,91.0a0.9,0.9 0 1,0 1.80,0a0.9,0.9 0 1,0 -1.80,0zM318.50,78.0a0.9,0.9 0 1,0 1.80,0a0.9,0.9 0 1,0 -1.80,0zM320.40,74.9a0.9,0.9 0 1,0 1.80,0a0.9,0.9 0 1,0 -1.80,0zM322.30,75.5a0.9,0.9 0 1,0 1.80,0a0.9,0.9 0 1,0 -1.80,0zM324.20,76.7a0.9,0.9 0 1,0 1.80,0a0.9,0.9 0 1,0 -1.80,0zM326.10,77.3a0.9,0.9 0 1,0 1.80,0a0.9,0.9 0 1,0 -1.80,0zM328.00,77.5a0.9,0.9 0 1,0 1.80,0a0.9,0.9 0 1,0 -1.80,0zM329.90,79.9a0.9,0.9 0 1,0 1.80,0a0.9,0.9 0 1,0 -1.80,0z" fill="none" stroke="#2a78bc" stroke-width="1.2" opacity="1.0"/>
<path d="M331.25,83.3a0.75,0.75 0 1,0 1.50,0a0.75,0.75 0 1,0 -1.50,0zM332.25,83.4a0.75,0.75 0 1,0 1.50,0a0.75,0.75 0 1,0 -1.50,0zM333.25,86.3a0.75,0.75 0 1,0 1.50,0a0.75,0.75 0 1,0 -1.50,0zM334.25,87.2a0.75,0.75 0 1,0 1.50,0a0.75,0.75 0 1,0 -1.50,0zM335.25,88.4a0.75,0.75 0 1,0 1.50,0a0.75,0.75 0 1,0 -1.50,0zM336.25,91.2a0.75,0.75 0 1,0 1.50,0a0.75,0.75 0 1,0 -1.50,0zM337.25,91.6a0.75,0.75 0 1,0 1.50,0a0.75,0.75 0 1,0 -1.50,0zM338.25,92.1a0.75,0.75 0 1,0 1.50,0a0.75,0.75 0 1,0 -1.50,0zM339.25,94.2a0.75,0.75 0 1,0 1.50,0a0.75,0.75 0 1,0 -1.50,0zM340.25,93.9a0.75,0.75 0 1,0 1.50,0a0.75,0.75 0 1,0 -1.50,0zM341.25,93.4a0.75,0.75 0 1,0 1.50,0a0.75,0.75 0 1,0 -1.50,0zM342.25,91.3a0.75,0.75 0 1,0 1.50,0a0.75,0.75 0 1,0 -1.50,0zM343.25,90.4a0.75,0.75 0 1,0 1.50,0a0.75,0.75 0 1,0 -1.50,0zM344.25,89.8a0.75,0.75 0 1,0 1.50,0a0.75,0.75 0 1,0 -1.50,0zM345.25,88.5a0.75,0.75 0 1,0 1.50,0a0.75,0.75 0 1,0 -1.50,0zM346.25,88.7a0.75,0.75 0 1,0 1.50,0a0.75,0.75 0 1,0 -1.50,0zM347.25,87.9a0.75,0.75 0 1,0 1.50,0a0.75,0.75 0 1,0 -1.50,0zM348.25,87.6a0.75,0.75 0 1,0 1.50,0a0.75,0.75 0 1,0 -1.50,0zM349.25,86.8a0.75,0.75 0 1,0 1.50,0a0.75,0.75 0 1,0 -1.50,0zM350.25,86.0a0.75,0.75 0 1,0 1.50,0a0.75,0.75 0 1,0 -1.50,0zM351.25,87.2a0.75,0.75 0 1,0 1.50,0a0.75,0.75 0 1,0 -1.50,0zM352.25,85.6a0.75,0.75 0 1,0 1.50,0a0.75,0.75 0 1,0 -1.50,0zM353.25,85.7a0.75,0.75 0 1,0 1.50,0a0.75,0.75 0 1,0 -1.50,0zM354.25,86.2a0.75,0.75 0 1,0 1.50,0a0.75,0.75 0 1,0 -1.50,0zM355.25,85.5a0.75,0.75 0 1,0 1.50,0a0.75,0.75 0 1,0 -1.50,0zM356.25,86.7a0.75,0.75 0 1,0 1.50,0a0.75,0.75 0 1,0 -1.50,0zM357.25,86.7a0.75,0.75 0 1,0 1.50,0a0.75,0.75 0 1,0 -1.50,0zM358.25,86.0a0.75,0.75 0 1,0 1.50,0a0.75,0.75 0 1,0 -1.50,0zM359.25,85.4a0.75,0.75 0 1,0 1.50,0a0.75,0.75 0 1,0 -1.50,0zM360.25,85.9a0.75,0.75 0 1,0 1.50,0a0.75,0.75 0 1,0 -1.50,0zM361.25,86.3a0.75,0.75 0 1,0 1.50,0a0.75,0.75 0 1,0 -1.50,0zM362.25,87.1a0.75,0.75 0 1,0 1.50,0a0.75,0.75 0 1,0 -1.50,0zM363.25,86.7a0.75,0.75 0 1,0 1.50,0a0.75,0.75 0 1,0 -1.50,0zM364.25,87.7a0.75,0.75 0 1,0 1.50,0a0.75,0.75 0 1,0 -1.50,0zM365.25,88.0a0.75,0.75 0 1,0 1.50,0a0.75,0.75 0 1,0 -1.50,0zM366.25,88.6a0.75,0.75 0 1,0 1.50,0a0.75,0.75 0 1,0 -1.50,0zM367.25,86.8a0.75,0.75 0 1,0 1.50,0a0.75,0.75 0 1,0 -1.50,0zM368.25,87.9a0.75,0.75 0 1,0 1.50,0a0.75,0.75 0 1,0 -1.50,0zM369.25,88.7a0.75,0.75 0 1,0 1.50,0a0.75,0.75 0 1,0 -1.50,0zM370.25,88.3a0.75,0.75 0 1,0 1.50,0a0.75,0.75 0 1,0 -1.50,0zM371.25,88.7a0.75,0.75 0 1,0 1.50,0a0.75,0.75 0 1,0 -1.50,0zM372.25,88.4a0.75,0.75 0 1,0 1.50,0a0.75,0.75 0 1,0 -1.50,0zM373.25,88.7a0.75,0.75 0 1,0 1.50,0a0.75,0.75 0 1,0 -1.50,0zM374.25,88.7a0.75,0.75 0 1,0 1.50,0a0.75,0.75 0 1,0 -1.50,0zM375.25,90.0a0.75,0.75 0 1,0 1.50,0a0.75,0.75 0 1,0 -1.50,0zM376.25,90.0a0.75,0.75 0 1,0 1.50,0a0.75,0.75 0 1,0 -1.50,0zM377.25,89.1a0.75,0.75 0 1,0 1.50,0a0.75,0.75 0 1,0 -1.50,0zM378.25,89.2a0.75,0.75 0 1,0 1.50,0a0.75,0.75 0 1,0 -1.50,0zM379.25,90.9a0.75,0.75 0 1,0 1.50,0a0.75,0.75 0 1,0 -1.50,0zM380.25,89.1a0.75,0.75 0 1,0 1.50,0a0.75,0.75 0 1,0 -1.50,0zM381.25,89.3a0.75,0.75 0 1,0 1.50,0a0.75,0.75 0 1,0 -1.50,0zM382.25,88.9a0.75,0.75 0 1,0 1.50,0a0.75,0.75 0 1,0 -1.50,0zM383.25,90.4a0.75,0.75 0 1,0 1.50,0a0.75,0.75 0 1,0 -1.50,0zM384.25,89.8a0.75,0.75 0 1,0 1.50,0a0.75,0.75 0 1,0 -1.50,0zM385.25,90.3a0.75,0.75 0 1,0 1.50,0a0.75,0.75 0 1,0 -1.50,0zM386.25,89.7a0.75,0.75 0 1,0 1.50,0a0.75,0.75 0 1,0 -1.50,0zM387.25,90.5a0.75,0.75 0 1,0 1.50,0a0.75,0.75 0 1,0 -1.50,0zM388.25,90.3a0.75,0.75 0 1,0 1.50,0a0.75,0.75 0 1,0 -1.50,0zM389.25,90.4a0.75,0.75 0 1,0 1.50,0a0.75,0.75 0 1,0 -1.50,0zM390.25,90.2a0.75,0.75 0 1,0 1.50,0a0.75,0.75 0 1,0 -1.50,0zM391.25,90.2a0.75,0.75 0 1,0 1.50,0a0.75,0.75 0 1,0 -1.50,0zM392.25,91.3a0.75,0.75 0 1,0 1.50,0a0.75,0.75 0 1,0 -1.50,0zM393.25,90.3a0.75,0.75 0 1,0 1.50,0a0.75,0.75 0 1,0 -1.50,0zM394.25,91.5a0.75,0.75 0 1,0 1.50,0a0.75,0.75 0 1,0 -1.50,0zM395.25,90.6a0.75,0.75 0 1,0 1.50,0a0.75,0.75 0 1,0 -1.50,0zM396.25,92.4a0.75,0.75 0 1,0 1.50,0a0.75,0.75 0 1,0 -1.50,0zM397.25,92.0a0.75,0.75 0 1,0 1.50,0a0.75,0.75 0 1,0 -1.50,0zM398.25,92.4a0.75,0.75 0 1,0 1.50,0a0.75,0.75 0 1,0 -1.50,0zM399.25,92.1a0.75,0.75 0 1,0 1.50,0a0.75,0.75 0 1,0 -1.50,0zM400.25,92.5a0.75,0.75 0 1,0 1.50,0a0.75,0.75 0 1,0 -1.50,0zM401.25,91.6a0.75,0.75 0 1,0 1.50,0a0.75,0.75 0 1,0 -1.50,0zM402.25,92.9a0.75,0.75 0 1,0 1.50,0a0.75,0.75 0 1,0 -1.50,0zM403.25,92.1a0.75,0.75 0 1,0 1.50,0a0.75,0.75 0 1,0 -1.50,0zM404.25,92.7a0.75,0.75 0 1,0 1.50,0a0.75,0.75 0 1,0 -1.50,0zM405.25,92.1a0.75,0.75 0 1,0 1.50,0a0.75,0.75 0 1,0 -1.50,0zM406.25,92.4a0.75,0.75 0 1,0 1.50,0a0.75,0.75 0 1,0 -1.50,0zM407.25,93.6a0.75,0.75 0 1,0 1.50,0a0.75,0.75 0 1,0 -1.50,0zM408.25,92.5a0.75,0.75 0 1,0 1.50,0a0.75,0.75 0 1,0 -1.50,0zM409.25,93.2a0.75,0.75 0 1,0 1.50,0a0.75,0.75 0 1,0 -1.50,0zM410.25,93.4a0.75,0.75 0 1,0 1.50,0a0.75,0.75 0 1,0 -1.50,0zM411.25,92.8a0.75,0.75 0 1,0 1.50,0a0.75,0.75 0 1,0 -1.50,0zM412.25,94.1a0.75,0.75 0 1,0 1.50,0a0.75,0.75 0 1,0 -1.50,0zM413.25,93.4a0.75,0.75 0 1,0 1.50,0a0.75,0.75 0 1,0 -1.50,0zM414.25,92.6a0.75,0.75 0 1,0 1.50,0a0.75,0.75 0 1,0 -1.50,0zM415.25,94.5a0.75,0.75 0 1,0 1.50,0a0.75,0.75 0 1,0 -1.50,0zM416.25,93.4a0.75,0.75 0 1,0 1.50,0a0.75,0.75 0 1,0 -1.50,0zM417.25,94.0a0.75,0.75 0 1,0 1.50,0a0.75,0.75 0 1,0 -1.50,0zM418.25,93.7a0.75,0.75 0 1,0 1.50,0a0.75,0.75 0 1,0 -1.50,0zM419.25,93.9a0.75,0.75 0 1,0 1.50,0a0.75,0.75 0 1,0 -1.50,0zM420.25,94.8a0.75,0.75 0 1,0 1.50,0a0.75,0.75 0 1,0 -1.50,0zM421.25,94.6a0.75,0.75 0 1,0 1.50,0a0.75,0.75 0 1,0 -1.50,0zM422.25,94.4a0.75,0.75 0 1,0 1.50,0a0.75,0.75 0 1,0 -1.50,0zM423.25,95.4a0.75,0.75 0 1,0 1.50,0a0.75,0.75 0 1,0 -1.50,0zM424.25,94.2a0.75,0.75 0 1,0 1.50,0a0.75,0.75 0 1,0 -1.50,0zM425.25,95.0a0.75,0.75 0 1,0 1.50,0a0.75,0.75 0 1,0 -1.50,0zM426.25,94.4a0.75,0.75 0 1,0 1.50,0a0.75,0.75 0 1,0 -1.50,0zM427.25,95.9a0.75,0.75 0 1,0 1.50,0a0.75,0.75 0 1,0 -1.50,0zM428.25,94.9a0.75,0.75 0 1,0 1.50,0a0.75,0.75 0 1,0 -1.50,0zM429.25,95.5a0.75,0.75 0 1,0 1.50,0a0.75,0.75 0 1,0 -1.50,0zM430.25,95.6a0.75,0.75 0 1,0 1.50,0a0.75,0.75 0 1,0 -1.50,0zM431.25,96.4a0.75,0.75 0 1,0 1.50,0a0.75,0.75 0 1,0 -1.50,0zM432.25,95.3a0.75,0.75 0 1,0 1.50,0a0.75,0.75 0 1,0 -1.50,0zM433.25,96.1a0.75,0.75 0 1,0 1.50,0a0.75,0.75 0 1,0 -1.50,0zM434.25,95.8a0.75,0.75 0 1,0 1.50,0a0.75,0.75 0 1,0 -1.50,0zM435.25,95.9a0.75,0.75 0 1,0 1.50,0a0.75,0.75 0 1,0 -1.50,0zM436.25,96.0a0.75,0.75 0 1,0 1.50,0a0.75,0.75 0 1,0 -1.50,0zM437.25,96.0a0.75,0.75 0 1,0 1.50,0a0.75,0.75 0 1,0 -1.50,0zM438.25,96.1a0.75,0.75 0 1,0 1.50,0a0.75,0.75 0 1,0 -1.50,0zM439.25,96.6a0.75,0.75 0 1,0 1.50,0a0.75,0.75 0 1,0 -1.50,0zM440.25,96.2a0.75,0.75 0 1,0 1.50,0a0.75,0.75 0 1,0 -1.50,0zM441.25,97.5a0.75,0.75 0 1,0 1.50,0a0.75,0.75 0 1,0 -1.50,0zM442.25,97.8a0.75,0.75 0 1,0 1.50,0a0.75,0.75 0 1,0 -1.50,0zM443.25,97.1a0.75,0.75 0 1,0 1.50,0a0.75,0.75 0 1,0 -1.50,0zM444.25,96.1a0.75,0.75 0 1,0 1.50,0a0.75,0.75 0 1,0 -1.50,0zM445.25,96.9a0.75,0.75 0 1,0 1.50,0a0.75,0.75 0 1,0 -1.50,0zM446.25,95.7a0.75,0.75 0 1,0 1.50,0a0.75,0.75 0 1,0 -1.50,0zM447.25,96.9a0.75,0.75 0 1,0 1.50,0a0.75,0.75 0 1,0 -1.50,0zM448.25,97.4a0.75,0.75 0 1,0 1.50,0a0.75,0.75 0 1,0 -1.50,0zM449.25,97.7a0.75,0.75 0 1,0 1.50,0a0.75,0.75 0 1,0 -1.50,0zM450.25,97.6a0.75,0.75 0 1,0 1.50,0a0.75,0.75 0 1,0 -1.50,0zM451.25,98.1a0.75,0.75 0 1,0 1.50,0a0.75,0.75 0 1,0 -1.50,0zM452.25,97.6a0.75,0.75 0 1,0 1.50,0a0.75,0.75 0 1,0 -1.50,0zM453.25,98.6a0.75,0.75 0 1,0 1.50,0a0.75,0.75 0 1,0 -1.50,0zM454.25,96.1a0.75,0.75 0 1,0 1.50,0a0.75,0.75 0 1,0 -1.50,0zM455.25,97.0a0.75,0.75 0 1,0 1.50,0a0.75,0.75 0 1,0 -1.50,0zM456.25,98.5a0.75,0.75 0 1,0 1.50,0a0.75,0.75 0 1,0 -1.50,0zM457.25,97.5a0.75,0.75 0 1,0 1.50,0a0.75,0.75 0 1,0 -1.50,0zM458.25,98.5a0.75,0.75 0 1,0 1.50,0a0.75,0.75 0 1,0 -1.50,0zM459.25,98.2a0.75,0.75 0 1,0 1.50,0a0.75,0.75 0 1,0 -1.50,0zM460.25,97.9a0.75,0.75 0 1,0 1.50,0a0.75,0.75 0 1,0 -1.50,0zM461.25,97.8a0.75,0.75 0 1,0 1.50,0a0.75,0.75 0 1,0 -1.50,0zM462.25,98.3a0.75,0.75 0 1,0 1.50,0a0.75,0.75 0 1,0 -1.50,0zM463.25,98.5a0.75,0.75 0 1,0 1.50,0a0.75,0.75 0 1,0 -1.50,0zM464.25,99.3a0.75,0.75 0 1,0 1.50,0a0.75,0.75 0 1,0 -1.50,0zM465.25,99.4a0.75,0.75 0 1,0 1.50,0a0.75,0.75 0 1,0 -1.50,0zM466.25,99.1a0.75,0.75 0 1,0 1.50,0a0.75,0.75 0 1,0 -1.50,0zM467.25,99.1a0.75,0.75 0 1,0 1.50,0a0.75,0.75 0 1,0 -1.50,0zM468.25,99.5a0.75,0.75 0 1,0 1.50,0a0.75,0.75 0 1,0 -1.50,0zM469.25,99.1a0.75,0.75 0 1,0 1.50,0a0.75,0.75 0 1,0 -1.50,0zM470.25,99.4a0.75,0.75 0 1,0 1.50,0a0.75,0.75 0 1,0 -1.50,0zM471.25,100.5a0.75,0.75 0 1,0 1.50,0a0.75,0.75 0 1,0 -1.50,0zM472.25,99.7a0.75,0.75 0 1,0 1.50,0a0.75,0.75 0 1,0 -1.50,0zM473.25,99.9a0.75,0.75 0 1,0 1.50,0a0.75,0.75 0 1,0 -1.50,0zM474.25,99.7a0.75,0.75 0 1,0 1.50,0a0.75,0.75 0 1,0 -1.50,0zM475.25,99.6a0.75,0.75 0 1,0 1.50,0a0.75,0.75 0 1,0 -1.50,0zM476.25,100.0a0.75,0.75 0 1,0 1.50,0a0.75,0.75 0 1,0 -1.50,0zM477.25,101.8a0.75,0.75 0 1,0 1.50,0a0.75,0.75 0 1,0 -1.50,0zM478.25,101.2a0.75,0.75 0 1,0 1.50,0a0.75,0.75 0 1,0 -1.50,0zM479.25,100.0a0.75,0.75 0 1,0 1.50,0a0.75,0.75 0 1,0 -1.50,0zM480.25,100.5a0.75,0.75 0 1,0 1.50,0a0.75,0.75 0 1,0 -1.50,0zM481.25,101.2a0.75,0.75 0 1,0 1.50,0a0.75,0.75 0 1,0 -1.50,0zM482.25,102.2a0.75,0.75 0 1,0 1.50,0a0.75,0.75 0 1,0 -1.50,0zM483.25,101.9a0.75,0.75 0 1,0 1.50,0a0.75,0.75 0 1,0 -1.50,0zM484.25,103.5a0.75,0.75 0 1,0 1.50,0a0.75,0.75 0 1,0 -1.50,0zM485.25,102.2a0.75,0.75 0 1,0 1.50,0a0.75,0.75 0 1,0 -1.50,0zM486.25,103.8a0.75,0.75 0 1,0 1.50,0a0.75,0.75 0 1,0 -1.50,0zM487.25,103.1a0.75,0.75 0 1,0 1.50,0a0.75,0.75 0 1,0 -1.50,0zM488.25,103.1a0.75,0.75 0 1,0 1.50,0a0.75,0.75 0 1,0 -1.50,0zM489.25,103.5a0.75,0.75 0 1,0 1.50,0a0.75,0.75 0 1,0 -1.50,0zM490.25,103.5a0.75,0.75 0 1,0 1.50,0a0.75,0.75 0 1,0 -1.50,0zM491.25,103.9a0.75,0.75 0 1,0 1.50,0a0.75,0.75 0 1,0 -1.50,0zM492.25,103.1a0.75,0.75 0 1,0 1.50,0a0.75,0.75 0 1,0 -1.50,0zM493.25,103.4a0.75,0.75 0 1,0 1.50,0a0.75,0.75 0 1,0 -1.50,0zM494.25,103.8a0.75,0.75 0 1,0 1.50,0a0.75,0.75 0 1,0 -1.50,0zM495.25,105.4a0.75,0.75 0 1,0 1.50,0a0.75,0.75 0 1,0 -1.50,0zM496.25,104.6a0.75,0.75 0 1,0 1.50,0a0.75,0.75 0 1,0 -1.50,0zM497.25,105.2a0.75,0.75 0 1,0 1.50,0a0.75,0.75 0 1,0 -1.50,0zM498.25,106.4a0.75,0.75 0 1,0 1.50,0a0.75,0.75 0 1,0 -1.50,0zM499.25,106.5a0.75,0.75 0 1,0 1.50,0a0.75,0.75 0 1,0 -1.50,0zM500.25,104.8a0.75,0.75 0 1,0 1.50,0a0.75,0.75 0 1,0 -1.50,0zM501.25,106.8a0.75,0.75 0 1,0 1.50,0a0.75,0.75 0 1,0 -1.50,0zM502.25,106.6a0.75,0.75 0 1,0 1.50,0a0.75,0.75 0 1,0 -1.50,0z" fill="none" stroke="#2a78bc" stroke-width="1.0" opacity="1.0"/>
</g>
<line x1="288.50" y1="62.64" x2="503.51" y2="145.68" stroke="#111" stroke-width="1.2"/>
<rect x="531.50" y="34.40" width="215.01" height="203.00" fill="none" stroke="#6a6a6a" stroke-width="1"/>
<path d="M555.39,237.40v-5.5M555.39,34.40v5.5M603.17,237.40v-5.5M603.17,34.40v5.5M650.95,237.40v-5.5M650.95,34.40v5.5M698.73,237.40v-5.5M698.73,34.40v5.5M531.50,52.85h5.5M746.51,52.85h-5.5M531.50,89.76h5.5M746.51,89.76h-5.5M531.50,126.67h5.5M746.51,126.67h-5.5M531.50,163.58h5.5M746.51,163.58h-5.5M531.50,200.49h5.5M746.51,200.49h-5.5" stroke="#6a6a6a" stroke-width="1" fill="none"/>
<text x="557.09" y="259.40" class="tk" text-anchor="middle" textLength="9.0" lengthAdjust="spacingAndGlyphs">2</text>
<text x="604.87" y="259.40" class="tk" text-anchor="middle" textLength="9.0" lengthAdjust="spacingAndGlyphs">4</text>
<text x="652.65" y="259.40" class="tk" text-anchor="middle" textLength="9.0" lengthAdjust="spacingAndGlyphs">6</text>
<text x="700.43" y="259.40" class="tk" text-anchor="middle" textLength="9.0" lengthAdjust="spacingAndGlyphs">8</text>
<text x="748.21" y="259.40" class="tk" text-anchor="middle" textLength="17.5" lengthAdjust="spacingAndGlyphs">10</text>
<text x="639.00" y="12.80" class="ti" text-anchor="middle" textLength="70" lengthAdjust="spacingAndGlyphs">Heuristic</text>
<text x="638.90" y="284.70" class="xl" text-anchor="middle" textLength="35" lengthAdjust="spacingAndGlyphs">ln(r)</text>
<text x="595.80" y="211.70" class="lg" text-anchor="end" textLength="57.5" lengthAdjust="spacingAndGlyphs">Disordered</text>
<text x="596.00" y="227.60" class="lg" text-anchor="end" textLength="38.5" lengthAdjust="spacingAndGlyphs">Critical</text>
<text x="695.50" y="211.70" class="lg" text-anchor="end" textLength="25" lengthAdjust="spacingAndGlyphs">Lane</text>
<text x="695.70" y="227.60" class="lg" text-anchor="end" textLength="17.5" lengthAdjust="spacingAndGlyphs">OZ</text>
<line x1="601.10" y1="206.8" x2="628.60" y2="206.8" stroke="#e4463f" stroke-width="1" stroke-dasharray="3.6 4" opacity="0.6"/>
<circle cx="616.60" cy="206.80" r="1.25" fill="none" stroke="#e4463f" stroke-width="1.0" opacity="0.85"/>
<line x1="601.10" y1="222.8" x2="628.60" y2="222.8" stroke="#2a78bc" stroke-width="1" stroke-dasharray="3.6 4" opacity="0.6"/>
<circle cx="616.60" cy="222.80" r="1.25" fill="none" stroke="#2a78bc" stroke-width="1.0" opacity="0.85"/>
<line x1="700.90" y1="206.8" x2="728.40" y2="206.8" stroke="#1a9c72" stroke-width="1" stroke-dasharray="3.6 4" opacity="0.6"/>
<path d="M716.40,205.10l1.4,2.6h-2.8z" fill="none" stroke="#1a9c72" stroke-width="1.0" opacity="0.85"/>
<line x1="701.60" y1="223" x2="731.00" y2="223" stroke="#555" stroke-width="1.6"/>
<g clip-path="url(#c2)">
<path d="M543.0,35.7L545.0,37.6L547.0,40.9L549.0,47.1L551.0,49.4L553.0,56.5L555.0,58.2L557.0,59.6L559.0,62.4L561.0,62.8L563.0,64.1L565.0,67.7L567.0,75.9L569.2,123.4L571.0,74.6L573.0,66.9L575.0,73.2L577.0,79.1L578.0,78.3L579.5,79.3L581.5,85.4L583.4,90.0L585.1,86.6L587.3,84.1L588.8,96.3L590.5,91.9L592.8,86.6L593.9,100.5L595.3,102.0L597.0,81.0L598.3,99.7L600.1,96.8L601.8,96.3L603.8,88.9L605.2,90.9L607.3,100.2L608.7,93.4L610.5,92.6L612.6,118.2L613.9,81.4L616.0,102.7L617.4,85.8L619.1,87.2L621.2,117.6L623.0,117.8L624.5,157.2L626.0,131.0L628.1,96.5L630.7,144.7L632.2,186.8L633.7,137.7L635.2,98.1L637.4,108.4L638.8,82.4L640.8,93.1L643.0,102.1L644.9,98.9L646.4,127.5L648.4,116.5L649.9,112.9L651.9,104.2L653.2,108.1L655.1,77.1L656.2,86.1L658.3,78.4L659.9,99.9L661.3,96.4L662.4,135.5L663.9,180.1L665.4,115.9L666.5,101.4L668.7,99.5L670.4,85.3L672.1,99.3L673.9,88.7L675.0,105.5L677.0,84.9L678.2,96.4L680.6,100.3L681.7,119.9L683.6,109.6L685.5,91.7L687.4,133.7L688.6,114.3L690.5,108.7L692.2,119.0L693.5,93.9L695.4,98.9L697.0,101.8L698.9,95.6L700.8,101.6L702.7,78.4L704.0,99.4L706.4,102.8L707.8,104.6L709.6,104.1L711.1,123.1L712.6,158.1L714.1,127.0L716.0,85.0L717.6,95.2L720.6,128.3L722.1,173.4L723.6,124.6L724.7,98.8L726.5,106.9L727.7,91.0L729.4,112.2L730.9,107.5L732.5,114.3L734.1,96.9L735.8,89.7L737.6,94.5L739.5,104.8L741.4,106.1L742.9,98.5L744.8,107.5" fill="none" stroke="#e4463f" stroke-width="0.75" stroke-dasharray="3.4 3.6" opacity="0.9"/>
<path d="M541.90,35.7a1.1,1.1 0 1,0 2.20,0a1.1,1.1 0 1,0 -2.20,0zM543.90,37.6a1.1,1.1 0 1,0 2.20,0a1.1,1.1 0 1,0 -2.20,0zM545.90,40.9a1.1,1.1 0 1,0 2.20,0a1.1,1.1 0 1,0 -2.20,0zM547.90,47.1a1.1,1.1 0 1,0 2.20,0a1.1,1.1 0 1,0 -2.20,0zM549.90,49.4a1.1,1.1 0 1,0 2.20,0a1.1,1.1 0 1,0 -2.20,0zM551.90,56.5a1.1,1.1 0 1,0 2.20,0a1.1,1.1 0 1,0 -2.20,0zM553.90,58.2a1.1,1.1 0 1,0 2.20,0a1.1,1.1 0 1,0 -2.20,0zM555.90,59.6a1.1,1.1 0 1,0 2.20,0a1.1,1.1 0 1,0 -2.20,0zM557.90,62.4a1.1,1.1 0 1,0 2.20,0a1.1,1.1 0 1,0 -2.20,0zM559.90,62.8a1.1,1.1 0 1,0 2.20,0a1.1,1.1 0 1,0 -2.20,0zM561.90,64.1a1.1,1.1 0 1,0 2.20,0a1.1,1.1 0 1,0 -2.20,0zM563.90,67.7a1.1,1.1 0 1,0 2.20,0a1.1,1.1 0 1,0 -2.20,0zM565.90,75.9a1.1,1.1 0 1,0 2.20,0a1.1,1.1 0 1,0 -2.20,0zM568.10,123.4a1.1,1.1 0 1,0 2.20,0a1.1,1.1 0 1,0 -2.20,0zM569.90,74.6a1.1,1.1 0 1,0 2.20,0a1.1,1.1 0 1,0 -2.20,0zM571.90,66.9a1.1,1.1 0 1,0 2.20,0a1.1,1.1 0 1,0 -2.20,0zM573.90,73.2a1.1,1.1 0 1,0 2.20,0a1.1,1.1 0 1,0 -2.20,0zM575.90,79.1a1.1,1.1 0 1,0 2.20,0a1.1,1.1 0 1,0 -2.20,0z" fill="none" stroke="#e4463f" stroke-width="0.8" opacity="1.0"/>
<path d="M576.72,78.3a1.3,1.3 0 1,0 2.60,0a1.3,1.3 0 1,0 -2.60,0zM578.24,79.3a1.3,1.3 0 1,0 2.60,0a1.3,1.3 0 1,0 -2.60,0zM580.22,85.4a1.3,1.3 0 1,0 2.60,0a1.3,1.3 0 1,0 -2.60,0zM582.11,90.0a1.3,1.3 0 1,0 2.60,0a1.3,1.3 0 1,0 -2.60,0zM583.81,86.6a1.3,1.3 0 1,0 2.60,0a1.3,1.3 0 1,0 -2.60,0zM586.03,84.1a1.3,1.3 0 1,0 2.60,0a1.3,1.3 0 1,0 -2.60,0zM587.54,96.3a1.3,1.3 0 1,0 2.60,0a1.3,1.3 0 1,0 -2.60,0zM589.21,91.9a1.3,1.3 0 1,0 2.60,0a1.3,1.3 0 1,0 -2.60,0zM591.48,86.6a1.3,1.3 0 1,0 2.60,0a1.3,1.3 0 1,0 -2.60,0zM592.56,100.5a1.3,1.3 0 1,0 2.60,0a1.3,1.3 0 1,0 -2.60,0zM593.99,102.0a1.3,1.3 0 1,0 2.60,0a1.3,1.3 0 1,0 -2.60,0zM595.66,81.0a1.3,1.3 0 1,0 2.60,0a1.3,1.3 0 1,0 -2.60,0zM596.98,99.7a1.3,1.3 0 1,0 2.60,0a1.3,1.3 0 1,0 -2.60,0zM598.78,96.8a1.3,1.3 0 1,0 2.60,0a1.3,1.3 0 1,0 -2.60,0zM600.50,96.3a1.3,1.3 0 1,0 2.60,0a1.3,1.3 0 1,0 -2.60,0zM602.47,88.9a1.3,1.3 0 1,0 2.60,0a1.3,1.3 0 1,0 -2.60,0zM603.86,90.9a1.3,1.3 0 1,0 2.60,0a1.3,1.3 0 1,0 -2.60,0zM605.97,100.2a1.3,1.3 0 1,0 2.60,0a1.3,1.3 0 1,0 -2.60,0zM607.44,93.4a1.3,1.3 0 1,0 2.60,0a1.3,1.3 0 1,0 -2.60,0zM609.18,92.6a1.3,1.3 0 1,0 2.60,0a1.3,1.3 0 1,0 -2.60,0zM611.26,118.2a1.3,1.3 0 1,0 2.60,0a1.3,1.3 0 1,0 -2.60,0zM612.58,81.4a1.3,1.3 0 1,0 2.60,0a1.3,1.3 0 1,0 -2.60,0zM614.65,102.7a1.3,1.3 0 1,0 2.60,0a1.3,1.3 0 1,0 -2.60,0zM616.15,85.8a1.3,1.3 0 1,0 2.60,0a1.3,1.3 0 1,0 -2.60,0zM617.76,87.2a1.3,1.3 0 1,0 2.60,0a1.3,1.3 0 1,0 -2.60,0zM619.89,117.6a1.3,1.3 0 1,0 2.60,0a1.3,1.3 0 1,0 -2.60,0zM621.67,117.8a1.3,1.3 0 1,0 2.60,0a1.3,1.3 0 1,0 -2.60,0zM623.20,157.2a1.3,1.3 0 1,0 2.60,0a1.3,1.3 0 1,0 -2.60,0zM624.73,131.0a1.3,1.3 0 1,0 2.60,0a1.3,1.3 0 1,0 -2.60,0zM626.85,96.5a1.3,1.3 0 1,0 2.60,0a1.3,1.3 0 1,0 -2.60,0zM629.37,144.7a1.3,1.3 0 1,0 2.60,0a1.3,1.3 0 1,0 -2.60,0zM630.90,186.8a1.3,1.3 0 1,0 2.60,0a1.3,1.3 0 1,0 -2.60,0zM632.43,137.7a1.3,1.3 0 1,0 2.60,0a1.3,1.3 0 1,0 -2.60,0zM633.90,98.1a1.3,1.3 0 1,0 2.60,0a1.3,1.3 0 1,0 -2.60,0zM636.12,108.4a1.3,1.3 0 1,0 2.60,0a1.3,1.3 0 1,0 -2.60,0zM637.53,82.4a1.3,1.3 0 1,0 2.60,0a1.3,1.3 0 1,0 -2.60,0zM639.45,93.1a1.3,1.3 0 1,0 2.60,0a1.3,1.3 0 1,0 -2.60,0zM641.69,102.1a1.3,1.3 0 1,0 2.60,0a1.3,1.3 0 1,0 -2.60,0zM643.62,98.9a1.3,1.3 0 1,0 2.60,0a1.3,1.3 0 1,0 -2.60,0zM645.14,127.5a1.3,1.3 0 1,0 2.60,0a1.3,1.3 0 1,0 -2.60,0zM647.15,116.5a1.3,1.3 0 1,0 2.60,0a1.3,1.3 0 1,0 -2.60,0zM648.56,112.9a1.3,1.3 0 1,0 2.60,0a1.3,1.3 0 1,0 -2.60,0zM650.57,104.2a1.3,1.3 0 1,0 2.60,0a1.3,1.3 0 1,0 -2.60,0zM651.93,108.1a1.3,1.3 0 1,0 2.60,0a1.3,1.3 0 1,0 -2.60,0zM653.79,77.1a1.3,1.3 0 1,0 2.60,0a1.3,1.3 0 1,0 -2.60,0zM654.93,86.1a1.3,1.3 0 1,0 2.60,0a1.3,1.3 0 1,0 -2.60,0zM656.97,78.4a1.3,1.3 0 1,0 2.60,0a1.3,1.3 0 1,0 -2.60,0zM658.55,99.9a1.3,1.3 0 1,0 2.60,0a1.3,1.3 0 1,0 -2.60,0zM659.98,96.4a1.3,1.3 0 1,0 2.60,0a1.3,1.3 0 1,0 -2.60,0zM661.07,135.5a1.3,1.3 0 1,0 2.60,0a1.3,1.3 0 1,0 -2.60,0zM662.60,180.1a1.3,1.3 0 1,0 2.60,0a1.3,1.3 0 1,0 -2.60,0zM664.13,115.9a1.3,1.3 0 1,0 2.60,0a1.3,1.3 0 1,0 -2.60,0zM665.21,101.4a1.3,1.3 0 1,0 2.60,0a1.3,1.3 0 1,0 -2.60,0zM667.40,99.5a1.3,1.3 0 1,0 2.60,0a1.3,1.3 0 1,0 -2.60,0zM669.08,85.3a1.3,1.3 0 1,0 2.60,0a1.3,1.3 0 1,0 -2.60,0zM670.75,99.3a1.3,1.3 0 1,0 2.60,0a1.3,1.3 0 1,0 -2.60,0zM672.56,88.7a1.3,1.3 0 1,0 2.60,0a1.3,1.3 0 1,0 -2.60,0zM673.71,105.5a1.3,1.3 0 1,0 2.60,0a1.3,1.3 0 1,0 -2.60,0zM675.74,84.9a1.3,1.3 0 1,0 2.60,0a1.3,1.3 0 1,0 -2.60,0zM676.93,96.4a1.3,1.3 0 1,0 2.60,0a1.3,1.3 0 1,0 -2.60,0zM679.26,100.3a1.3,1.3 0 1,0 2.60,0a1.3,1.3 0 1,0 -2.60,0zM680.44,119.9a1.3,1.3 0 1,0 2.60,0a1.3,1.3 0 1,0 -2.60,0zM682.26,109.6a1.3,1.3 0 1,0 2.60,0a1.3,1.3 0 1,0 -2.60,0zM684.19,91.7a1.3,1.3 0 1,0 2.60,0a1.3,1.3 0 1,0 -2.60,0zM686.13,133.7a1.3,1.3 0 1,0 2.60,0a1.3,1.3 0 1,0 -2.60,0zM687.34,114.3a1.3,1.3 0 1,0 2.60,0a1.3,1.3 0 1,0 -2.60,0zM689.18,108.7a1.3,1.3 0 1,0 2.60,0a1.3,1.3 0 1,0 -2.60,0zM690.86,119.0a1.3,1.3 0 1,0 2.60,0a1.3,1.3 0 1,0 -2.60,0zM692.20,93.9a1.3,1.3 0 1,0 2.60,0a1.3,1.3 0 1,0 -2.60,0zM694.12,98.9a1.3,1.3 0 1,0 2.60,0a1.3,1.3 0 1,0 -2.60,0zM695.72,101.8a1.3,1.3 0 1,0 2.60,0a1.3,1.3 0 1,0 -2.60,0zM697.60,95.6a1.3,1.3 0 1,0 2.60,0a1.3,1.3 0 1,0 -2.60,0zM699.46,101.6a1.3,1.3 0 1,0 2.60,0a1.3,1.3 0 1,0 -2.60,0zM701.43,78.4a1.3,1.3 0 1,0 2.60,0a1.3,1.3 0 1,0 -2.60,0zM702.68,99.4a1.3,1.3 0 1,0 2.60,0a1.3,1.3 0 1,0 -2.60,0zM705.07,102.8a1.3,1.3 0 1,0 2.60,0a1.3,1.3 0 1,0 -2.60,0zM706.49,104.6a1.3,1.3 0 1,0 2.60,0a1.3,1.3 0 1,0 -2.60,0zM708.25,104.1a1.3,1.3 0 1,0 2.60,0a1.3,1.3 0 1,0 -2.60,0zM709.77,123.1a1.3,1.3 0 1,0 2.60,0a1.3,1.3 0 1,0 -2.60,0zM711.30,158.1a1.3,1.3 0 1,0 2.60,0a1.3,1.3 0 1,0 -2.60,0zM712.83,127.0a1.3,1.3 0 1,0 2.60,0a1.3,1.3 0 1,0 -2.60,0zM714.72,85.0a1.3,1.3 0 1,0 2.60,0a1.3,1.3 0 1,0 -2.60,0zM716.27,95.2a1.3,1.3 0 1,0 2.60,0a1.3,1.3 0 1,0 -2.60,0zM719.27,128.3a1.3,1.3 0 1,0 2.60,0a1.3,1.3 0 1,0 -2.60,0zM720.80,173.4a1.3,1.3 0 1,0 2.60,0a1.3,1.3 0 1,0 -2.60,0zM722.33,124.6a1.3,1.3 0 1,0 2.60,0a1.3,1.3 0 1,0 -2.60,0zM723.39,98.8a1.3,1.3 0 1,0 2.60,0a1.3,1.3 0 1,0 -2.60,0zM725.17,106.9a1.3,1.3 0 1,0 2.60,0a1.3,1.3 0 1,0 -2.60,0zM726.38,91.0a1.3,1.3 0 1,0 2.60,0a1.3,1.3 0 1,0 -2.60,0zM728.14,112.2a1.3,1.3 0 1,0 2.60,0a1.3,1.3 0 1,0 -2.60,0zM729.63,107.5a1.3,1.3 0 1,0 2.60,0a1.3,1.3 0 1,0 -2.60,0zM731.17,114.3a1.3,1.3 0 1,0 2.60,0a1.3,1.3 0 1,0 -2.60,0zM732.80,96.9a1.3,1.3 0 1,0 2.60,0a1.3,1.3 0 1,0 -2.60,0zM734.50,89.7a1.3,1.3 0 1,0 2.60,0a1.3,1.3 0 1,0 -2.60,0zM736.33,94.5a1.3,1.3 0 1,0 2.60,0a1.3,1.3 0 1,0 -2.60,0zM738.17,104.8a1.3,1.3 0 1,0 2.60,0a1.3,1.3 0 1,0 -2.60,0zM740.09,106.1a1.3,1.3 0 1,0 2.60,0a1.3,1.3 0 1,0 -2.60,0zM741.61,98.5a1.3,1.3 0 1,0 2.60,0a1.3,1.3 0 1,0 -2.60,0zM743.51,107.5a1.3,1.3 0 1,0 2.60,0a1.3,1.3 0 1,0 -2.60,0z" fill="none" stroke="#e4463f" stroke-width="0.9" opacity="1.0"/>
<path d="M541.0,34.6L543.3,35.3L545.6,43.1L546.7,57.5L547.9,50.8L550.2,46.7L552.5,43.6L554.8,43.0L557.1,44.6L559.4,44.5L561.7,46.0L564.0,48.0L566.3,52.4L568.6,54.6L570.9,57.1L573.2,57.5L575.5,59.6L577.8,60.2L579.9,68.0L581.6,57.1L583.8,65.8L586.0,63.7L588.3,65.2L590.1,74.8L591.9,64.6L593.6,78.4L595.9,109.6L598.3,80.5L600.0,112.0L601.7,91.1L603.2,68.3L605.3,66.6L606.8,76.0L608.5,86.1L609.9,72.6L612.0,85.7L613.9,59.5L615.5,75.1L617.7,62.1L619.2,61.6L621.2,63.3L623.3,74.3L625.6,69.2L627.5,63.5L629.8,62.4L631.8,60.4L633.5,71.4L635.3,73.4L637.3,112.7L638.8,76.1L640.5,66.8L641.9,71.6L644.3,69.1L645.8,79.3L648.1,84.1L650.3,88.5L652.0,118.0L653.7,83.5L655.4,103.1L657.3,86.9L659.2,82.5L660.8,120.4L663.1,80.4L664.8,80.8L667.1,84.9L668.9,84.4L670.7,78.8L672.8,84.9L674.4,67.9L676.3,70.2L678.5,77.2L679.9,85.4L682.5,82.2L683.6,85.9L685.8,66.5L687.1,84.7L689.2,75.7L691.1,79.2L692.9,102.7L694.9,67.8L696.5,86.2L698.5,79.2L700.6,76.1L702.3,117.4L704.9,84.5L706.5,94.8L708.4,70.6L710.4,88.7L712.1,74.8L714.6,69.7L716.1,97.2L718.1,91.6L720.0,83.1L721.5,79.7L723.4,79.3L725.6,79.0L727.2,72.2L729.1,93.2L731.0,83.2L732.4,119.6L734.0,86.2L736.4,92.5L737.6,125.0L739.3,148.0L741.0,98.5L744.4,94.7" fill="none" stroke="#1a9c72" stroke-width="0.75" stroke-dasharray="3.4 3.6" opacity="0.9"/>
<path d="M541.0,33.4l1.10,2.10h-2.20zM543.3,34.1l1.10,2.10h-2.20zM545.6,41.8l1.10,2.10h-2.20zM546.7,56.2l1.10,2.10h-2.20zM547.9,49.6l1.10,2.10h-2.20zM550.2,45.5l1.10,2.10h-2.20zM552.5,42.4l1.10,2.10h-2.20zM554.8,41.8l1.10,2.10h-2.20zM557.1,43.4l1.10,2.10h-2.20zM559.4,43.2l1.10,2.10h-2.20zM561.7,44.7l1.10,2.10h-2.20zM564.0,46.8l1.10,2.10h-2.20zM566.3,51.1l1.10,2.10h-2.20zM568.6,53.4l1.10,2.10h-2.20zM570.9,55.9l1.10,2.10h-2.20zM573.2,56.3l1.10,2.10h-2.20zM575.5,58.4l1.10,2.10h-2.20zM577.8,59.0l1.10,2.10h-2.20z" fill="none" stroke="#1a9c72" stroke-width="0.9" opacity="1.0"/>
<path d="M579.9,66.4l1.43,2.73h-2.86zM581.6,55.5l1.43,2.73h-2.86zM583.8,64.2l1.43,2.73h-2.86zM586.0,62.1l1.43,2.73h-2.86zM588.3,63.6l1.43,2.73h-2.86zM590.1,73.1l1.43,2.73h-2.86zM591.9,62.9l1.43,2.73h-2.86zM593.6,76.8l1.43,2.73h-2.86zM595.9,108.0l1.43,2.73h-2.86zM598.3,78.9l1.43,2.73h-2.86zM600.0,110.4l1.43,2.73h-2.86zM601.7,89.4l1.43,2.73h-2.86zM603.2,66.7l1.43,2.73h-2.86zM605.3,65.0l1.43,2.73h-2.86zM606.8,74.4l1.43,2.73h-2.86zM608.5,84.5l1.43,2.73h-2.86zM609.9,70.9l1.43,2.73h-2.86zM612.0,84.1l1.43,2.73h-2.86zM613.9,57.9l1.43,2.73h-2.86zM615.5,73.4l1.43,2.73h-2.86zM617.7,60.5l1.43,2.73h-2.86zM619.2,60.0l1.43,2.73h-2.86zM621.2,61.6l1.43,2.73h-2.86zM623.3,72.7l1.43,2.73h-2.86zM625.6,67.6l1.43,2.73h-2.86zM627.5,61.9l1.43,2.73h-2.86zM629.8,60.8l1.43,2.73h-2.86zM631.8,58.8l1.43,2.73h-2.86zM633.5,69.7l1.43,2.73h-2.86zM635.3,71.8l1.43,2.73h-2.86zM637.3,111.1l1.43,2.73h-2.86zM638.8,74.4l1.43,2.73h-2.86zM640.5,65.2l1.43,2.73h-2.86zM641.9,69.9l1.43,2.73h-2.86zM644.3,67.5l1.43,2.73h-2.86zM645.8,77.7l1.43,2.73h-2.86zM648.1,82.5l1.43,2.73h-2.86zM650.3,86.9l1.43,2.73h-2.86zM652.0,116.4l1.43,2.73h-2.86zM653.7,81.9l1.43,2.73h-2.86zM655.4,101.5l1.43,2.73h-2.86zM657.3,85.2l1.43,2.73h-2.86zM659.2,80.9l1.43,2.73h-2.86zM660.8,118.8l1.43,2.73h-2.86zM663.1,78.8l1.43,2.73h-2.86zM664.8,79.2l1.43,2.73h-2.86zM667.1,83.3l1.43,2.73h-2.86zM668.9,82.8l1.43,2.73h-2.86zM670.7,77.2l1.43,2.73h-2.86zM672.8,83.3l1.43,2.73h-2.86zM674.4,66.3l1.43,2.73h-2.86zM676.3,68.5l1.43,2.73h-2.86zM678.5,75.6l1.43,2.73h-2.86zM679.9,83.7l1.43,2.73h-2.86zM682.5,80.6l1.43,2.73h-2.86zM683.6,84.3l1.43,2.73h-2.86zM685.8,64.9l1.43,2.73h-2.86zM687.1,83.0l1.43,2.73h-2.86zM689.2,74.1l1.43,2.73h-2.86zM691.1,77.6l1.43,2.73h-2.86zM692.9,101.1l1.43,2.73h-2.86zM694.9,66.2l1.43,2.73h-2.86zM696.5,84.6l1.43,2.73h-2.86zM698.5,77.5l1.43,2.73h-2.86zM700.6,74.5l1.43,2.73h-2.86zM702.3,115.7l1.43,2.73h-2.86zM704.9,82.9l1.43,2.73h-2.86zM706.5,93.2l1.43,2.73h-2.86zM708.4,69.0l1.43,2.73h-2.86zM710.4,87.0l1.43,2.73h-2.86zM712.1,73.1l1.43,2.73h-2.86zM714.6,68.0l1.43,2.73h-2.86zM716.1,95.6l1.43,2.73h-2.86zM718.1,90.0l1.43,2.73h-2.86zM720.0,81.5l1.43,2.73h-2.86zM721.5,78.1l1.43,2.73h-2.86zM723.4,77.7l1.43,2.73h-2.86zM725.6,77.4l1.43,2.73h-2.86zM727.2,70.6l1.43,2.73h-2.86zM729.1,91.6l1.43,2.73h-2.86zM731.0,81.6l1.43,2.73h-2.86zM732.4,118.0l1.43,2.73h-2.86zM734.0,84.6l1.43,2.73h-2.86zM736.4,90.9l1.43,2.73h-2.86zM737.6,123.4l1.43,2.73h-2.86zM739.3,146.4l1.43,2.73h-2.86zM741.0,96.9l1.43,2.73h-2.86zM744.4,93.1l1.43,2.73h-2.86z" fill="none" stroke="#1a9c72" stroke-width="0.9" opacity="1.0"/>
<path d="M531.5,34.2L532.4,33.8L533.3,33.6L534.2,33.8L535.1,34.0L536.0,34.1L536.9,34.0L537.8,35.0L538.7,35.3L539.6,35.4L540.5,36.3L541.4,37.1L542.3,38.0L543.2,38.8L544.1,39.8L545.0,40.9L545.9,42.0L546.8,42.4L547.7,42.8L548.6,44.1L549.5,45.5L550.4,46.0L551.3,47.2L552.2,47.7L553.1,48.6L554.0,49.2L554.9,50.3L555.8,51.9L556.7,52.5L557.6,53.2L560.2,55.4L562.2,58.5L564.2,60.4L566.2,62.6L568.2,62.5L570.2,64.4L572.2,63.5L574.2,67.2L576.2,68.9L578.2,70.9L580.2,73.2L581.5,107.8L582.2,74.4L583.0,136.7L584.2,78.2L584.5,102.9L587.1,139.7L588.8,95.0L590.5,105.9L592.0,137.7L593.5,119.0L595.8,106.8L597.2,102.9L599.2,140.0L600.7,162.9L602.2,136.8L604.0,90.5L606.2,113.4L607.4,101.7L609.4,100.6L611.0,110.9L612.4,105.1L614.1,85.2L616.5,106.6L618.0,140.6L619.5,118.6L621.3,106.8L623.0,117.2L624.5,144.8L626.0,107.3L628.5,98.3L629.9,111.8L631.8,90.2L633.6,107.1L635.2,100.8L636.4,90.9L638.4,96.2L640.5,100.2L642.0,110.9L644.2,106.6L645.6,121.2L647.4,105.7L648.8,91.1L650.9,95.8L652.7,90.7L653.8,107.0L655.3,140.0L656.8,110.1L658.2,108.7L659.9,96.1L661.3,96.4L663.3,124.3L664.8,159.1L666.3,133.9L668.3,93.2L670.3,92.4L672.9,114.4L674.4,143.0L675.9,103.6L677.7,125.0L679.2,166.7L680.7,116.2L683.4,110.9L684.9,158.1L686.2,129.0L687.7,190.6L689.2,125.8L690.9,103.7L692.9,127.1L694.4,167.7L695.9,134.8L697.8,87.5L698.9,136.6L700.7,94.4L702.6,130.3L704.3,88.8L705.7,86.0L707.9,101.3L709.2,106.3L711.2,112.7L713.4,98.2L714.6,102.8L716.8,123.5L718.3,163.9L719.8,139.3L721.8,92.0L723.5,148.4L725.0,183.9L726.5,124.4L728.6,95.9L730.5,103.5L732.1,117.2L734.0,103.7L735.1,95.4L736.8,94.5L738.3,106.2L740.1,92.4L741.3,91.4L742.9,108.7L744.3,100.1L745.9,116.1" fill="none" stroke="#2a78bc" stroke-width="0.75" stroke-dasharray="3.4 3.6" opacity="0.9"/>
<path d="M530.75,34.2a0.75,0.75 0 1,0 1.50,0a0.75,0.75 0 1,0 -1.50,0zM531.65,33.8a0.75,0.75 0 1,0 1.50,0a0.75,0.75 0 1,0 -1.50,0zM532.55,33.6a0.75,0.75 0 1,0 1.50,0a0.75,0.75 0 1,0 -1.50,0zM533.45,33.8a0.75,0.75 0 1,0 1.50,0a0.75,0.75 0 1,0 -1.50,0zM534.35,34.0a0.75,0.75 0 1,0 1.50,0a0.75,0.75 0 1,0 -1.50,0zM535.25,34.1a0.75,0.75 0 1,0 1.50,0a0.75,0.75 0 1,0 -1.50,0zM536.15,34.0a0.75,0.75 0 1,0 1.50,0a0.75,0.75 0 1,0 -1.50,0zM537.05,35.0a0.75,0.75 0 1,0 1.50,0a0.75,0.75 0 1,0 -1.50,0zM537.95,35.3a0.75,0.75 0 1,0 1.50,0a0.75,0.75 0 1,0 -1.50,0zM538.85,35.4a0.75,0.75 0 1,0 1.50,0a0.75,0.75 0 1,0 -1.50,0zM539.75,36.3a0.75,0.75 0 1,0 1.50,0a0.75,0.75 0 1,0 -1.50,0zM540.65,37.1a0.75,0.75 0 1,0 1.50,0a0.75,0.75 0 1,0 -1.50,0zM541.55,38.0a0.75,0.75 0 1,0 1.50,0a0.75,0.75 0 1,0 -1.50,0zM542.45,38.8a0.75,0.75 0 1,0 1.50,0a0.75,0.75 0 1,0 -1.50,0zM543.35,39.8a0.75,0.75 0 1,0 1.50,0a0.75,0.75 0 1,0 -1.50,0zM544.25,40.9a0.75,0.75 0 1,0 1.50,0a0.75,0.75 0 1,0 -1.50,0zM545.15,42.0a0.75,0.75 0 1,0 1.50,0a0.75,0.75 0 1,0 -1.50,0zM546.05,42.4a0.75,0.75 0 1,0 1.50,0a0.75,0.75 0 1,0 -1.50,0zM546.95,42.8a0.75,0.75 0 1,0 1.50,0a0.75,0.75 0 1,0 -1.50,0zM547.85,44.1a0.75,0.75 0 1,0 1.50,0a0.75,0.75 0 1,0 -1.50,0zM548.75,45.5a0.75,0.75 0 1,0 1.50,0a0.75,0.75 0 1,0 -1.50,0zM549.65,46.0a0.75,0.75 0 1,0 1.50,0a0.75,0.75 0 1,0 -1.50,0zM550.55,47.2a0.75,0.75 0 1,0 1.50,0a0.75,0.75 0 1,0 -1.50,0zM551.45,47.7a0.75,0.75 0 1,0 1.50,0a0.75,0.75 0 1,0 -1.50,0zM552.35,48.6a0.75,0.75 0 1,0 1.50,0a0.75,0.75 0 1,0 -1.50,0zM553.25,49.2a0.75,0.75 0 1,0 1.50,0a0.75,0.75 0 1,0 -1.50,0zM554.15,50.3a0.75,0.75 0 1,0 1.50,0a0.75,0.75 0 1,0 -1.50,0zM555.05,51.9a0.75,0.75 0 1,0 1.50,0a0.75,0.75 0 1,0 -1.50,0zM555.95,52.5a0.75,0.75 0 1,0 1.50,0a0.75,0.75 0 1,0 -1.50,0zM556.85,53.2a0.75,0.75 0 1,0 1.50,0a0.75,0.75 0 1,0 -1.50,0z" fill="none" stroke="#2a78bc" stroke-width="1.2" opacity="1.0"/>
<path d="M559.10,55.4a1.1,1.1 0 1,0 2.20,0a1.1,1.1 0 1,0 -2.20,0zM561.10,58.5a1.1,1.1 0 1,0 2.20,0a1.1,1.1 0 1,0 -2.20,0zM563.10,60.4a1.1,1.1 0 1,0 2.20,0a1.1,1.1 0 1,0 -2.20,0zM565.10,62.6a1.1,1.1 0 1,0 2.20,0a1.1,1.1 0 1,0 -2.20,0zM567.10,62.5a1.1,1.1 0 1,0 2.20,0a1.1,1.1 0 1,0 -2.20,0zM569.10,64.4a1.1,1.1 0 1,0 2.20,0a1.1,1.1 0 1,0 -2.20,0zM571.10,63.5a1.1,1.1 0 1,0 2.20,0a1.1,1.1 0 1,0 -2.20,0zM573.10,67.2a1.1,1.1 0 1,0 2.20,0a1.1,1.1 0 1,0 -2.20,0zM575.10,68.9a1.1,1.1 0 1,0 2.20,0a1.1,1.1 0 1,0 -2.20,0zM577.10,70.9a1.1,1.1 0 1,0 2.20,0a1.1,1.1 0 1,0 -2.20,0zM579.10,73.2a1.1,1.1 0 1,0 2.20,0a1.1,1.1 0 1,0 -2.20,0zM581.10,74.4a1.1,1.1 0 1,0 2.20,0a1.1,1.1 0 1,0 -2.20,0zM583.10,78.2a1.1,1.1 0 1,0 2.20,0a1.1,1.1 0 1,0 -2.20,0z" fill="none" stroke="#2a78bc" stroke-width="0.85" opacity="1.0"/>
<path d="M580.22,107.8a1.25,1.25 0 1,0 2.50,0a1.25,1.25 0 1,0 -2.50,0zM581.75,136.7a1.25,1.25 0 1,0 2.50,0a1.25,1.25 0 1,0 -2.50,0zM583.28,102.9a1.25,1.25 0 1,0 2.50,0a1.25,1.25 0 1,0 -2.50,0zM585.87,139.7a1.25,1.25 0 1,0 2.50,0a1.25,1.25 0 1,0 -2.50,0zM587.56,95.0a1.25,1.25 0 1,0 2.50,0a1.25,1.25 0 1,0 -2.50,0zM589.22,105.9a1.25,1.25 0 1,0 2.50,0a1.25,1.25 0 1,0 -2.50,0zM590.75,137.7a1.25,1.25 0 1,0 2.50,0a1.25,1.25 0 1,0 -2.50,0zM592.28,119.0a1.25,1.25 0 1,0 2.50,0a1.25,1.25 0 1,0 -2.50,0zM594.55,106.8a1.25,1.25 0 1,0 2.50,0a1.25,1.25 0 1,0 -2.50,0zM595.94,102.9a1.25,1.25 0 1,0 2.50,0a1.25,1.25 0 1,0 -2.50,0zM597.92,140.0a1.25,1.25 0 1,0 2.50,0a1.25,1.25 0 1,0 -2.50,0zM599.45,162.9a1.25,1.25 0 1,0 2.50,0a1.25,1.25 0 1,0 -2.50,0zM600.98,136.8a1.25,1.25 0 1,0 2.50,0a1.25,1.25 0 1,0 -2.50,0zM602.71,90.5a1.25,1.25 0 1,0 2.50,0a1.25,1.25 0 1,0 -2.50,0zM604.97,113.4a1.25,1.25 0 1,0 2.50,0a1.25,1.25 0 1,0 -2.50,0zM606.14,101.7a1.25,1.25 0 1,0 2.50,0a1.25,1.25 0 1,0 -2.50,0zM608.17,100.6a1.25,1.25 0 1,0 2.50,0a1.25,1.25 0 1,0 -2.50,0zM609.78,110.9a1.25,1.25 0 1,0 2.50,0a1.25,1.25 0 1,0 -2.50,0zM611.12,105.1a1.25,1.25 0 1,0 2.50,0a1.25,1.25 0 1,0 -2.50,0zM612.89,85.2a1.25,1.25 0 1,0 2.50,0a1.25,1.25 0 1,0 -2.50,0zM615.22,106.6a1.25,1.25 0 1,0 2.50,0a1.25,1.25 0 1,0 -2.50,0zM616.75,140.6a1.25,1.25 0 1,0 2.50,0a1.25,1.25 0 1,0 -2.50,0zM618.28,118.6a1.25,1.25 0 1,0 2.50,0a1.25,1.25 0 1,0 -2.50,0zM620.04,106.8a1.25,1.25 0 1,0 2.50,0a1.25,1.25 0 1,0 -2.50,0zM621.72,117.2a1.25,1.25 0 1,0 2.50,0a1.25,1.25 0 1,0 -2.50,0zM623.25,144.8a1.25,1.25 0 1,0 2.50,0a1.25,1.25 0 1,0 -2.50,0zM624.78,107.3a1.25,1.25 0 1,0 2.50,0a1.25,1.25 0 1,0 -2.50,0zM627.28,98.3a1.25,1.25 0 1,0 2.50,0a1.25,1.25 0 1,0 -2.50,0zM628.61,111.8a1.25,1.25 0 1,0 2.50,0a1.25,1.25 0 1,0 -2.50,0zM630.59,90.2a1.25,1.25 0 1,0 2.50,0a1.25,1.25 0 1,0 -2.50,0zM632.38,107.1a1.25,1.25 0 1,0 2.50,0a1.25,1.25 0 1,0 -2.50,0zM633.94,100.8a1.25,1.25 0 1,0 2.50,0a1.25,1.25 0 1,0 -2.50,0zM635.18,90.9a1.25,1.25 0 1,0 2.50,0a1.25,1.25 0 1,0 -2.50,0zM637.18,96.2a1.25,1.25 0 1,0 2.50,0a1.25,1.25 0 1,0 -2.50,0zM639.20,100.2a1.25,1.25 0 1,0 2.50,0a1.25,1.25 0 1,0 -2.50,0zM640.78,110.9a1.25,1.25 0 1,0 2.50,0a1.25,1.25 0 1,0 -2.50,0zM642.90,106.6a1.25,1.25 0 1,0 2.50,0a1.25,1.25 0 1,0 -2.50,0zM644.31,121.2a1.25,1.25 0 1,0 2.50,0a1.25,1.25 0 1,0 -2.50,0zM646.14,105.7a1.25,1.25 0 1,0 2.50,0a1.25,1.25 0 1,0 -2.50,0zM647.53,91.1a1.25,1.25 0 1,0 2.50,0a1.25,1.25 0 1,0 -2.50,0zM649.64,95.8a1.25,1.25 0 1,0 2.50,0a1.25,1.25 0 1,0 -2.50,0zM651.46,90.7a1.25,1.25 0 1,0 2.50,0a1.25,1.25 0 1,0 -2.50,0zM652.52,107.0a1.25,1.25 0 1,0 2.50,0a1.25,1.25 0 1,0 -2.50,0zM654.05,140.0a1.25,1.25 0 1,0 2.50,0a1.25,1.25 0 1,0 -2.50,0zM655.58,110.1a1.25,1.25 0 1,0 2.50,0a1.25,1.25 0 1,0 -2.50,0zM657.00,108.7a1.25,1.25 0 1,0 2.50,0a1.25,1.25 0 1,0 -2.50,0zM658.65,96.1a1.25,1.25 0 1,0 2.50,0a1.25,1.25 0 1,0 -2.50,0zM660.02,96.4a1.25,1.25 0 1,0 2.50,0a1.25,1.25 0 1,0 -2.50,0zM662.02,124.3a1.25,1.25 0 1,0 2.50,0a1.25,1.25 0 1,0 -2.50,0zM663.55,159.1a1.25,1.25 0 1,0 2.50,0a1.25,1.25 0 1,0 -2.50,0zM665.08,133.9a1.25,1.25 0 1,0 2.50,0a1.25,1.25 0 1,0 -2.50,0zM667.08,93.2a1.25,1.25 0 1,0 2.50,0a1.25,1.25 0 1,0 -2.50,0zM669.01,92.4a1.25,1.25 0 1,0 2.50,0a1.25,1.25 0 1,0 -2.50,0zM671.62,114.4a1.25,1.25 0 1,0 2.50,0a1.25,1.25 0 1,0 -2.50,0zM673.15,143.0a1.25,1.25 0 1,0 2.50,0a1.25,1.25 0 1,0 -2.50,0zM674.68,103.6a1.25,1.25 0 1,0 2.50,0a1.25,1.25 0 1,0 -2.50,0zM676.42,125.0a1.25,1.25 0 1,0 2.50,0a1.25,1.25 0 1,0 -2.50,0zM677.95,166.7a1.25,1.25 0 1,0 2.50,0a1.25,1.25 0 1,0 -2.50,0zM679.48,116.2a1.25,1.25 0 1,0 2.50,0a1.25,1.25 0 1,0 -2.50,0zM682.12,110.9a1.25,1.25 0 1,0 2.50,0a1.25,1.25 0 1,0 -2.50,0zM683.65,158.1a1.25,1.25 0 1,0 2.50,0a1.25,1.25 0 1,0 -2.50,0zM684.92,129.0a1.25,1.25 0 1,0 2.50,0a1.25,1.25 0 1,0 -2.50,0zM686.45,190.6a1.25,1.25 0 1,0 2.50,0a1.25,1.25 0 1,0 -2.50,0zM687.98,125.8a1.25,1.25 0 1,0 2.50,0a1.25,1.25 0 1,0 -2.50,0zM689.62,103.7a1.25,1.25 0 1,0 2.50,0a1.25,1.25 0 1,0 -2.50,0zM691.62,127.1a1.25,1.25 0 1,0 2.50,0a1.25,1.25 0 1,0 -2.50,0zM693.15,167.7a1.25,1.25 0 1,0 2.50,0a1.25,1.25 0 1,0 -2.50,0zM694.68,134.8a1.25,1.25 0 1,0 2.50,0a1.25,1.25 0 1,0 -2.50,0zM696.51,87.5a1.25,1.25 0 1,0 2.50,0a1.25,1.25 0 1,0 -2.50,0zM697.62,136.6a1.25,1.25 0 1,0 2.50,0a1.25,1.25 0 1,0 -2.50,0zM699.45,94.4a1.25,1.25 0 1,0 2.50,0a1.25,1.25 0 1,0 -2.50,0zM701.39,130.3a1.25,1.25 0 1,0 2.50,0a1.25,1.25 0 1,0 -2.50,0zM703.03,88.8a1.25,1.25 0 1,0 2.50,0a1.25,1.25 0 1,0 -2.50,0zM704.48,86.0a1.25,1.25 0 1,0 2.50,0a1.25,1.25 0 1,0 -2.50,0zM706.69,101.3a1.25,1.25 0 1,0 2.50,0a1.25,1.25 0 1,0 -2.50,0zM707.95,106.3a1.25,1.25 0 1,0 2.50,0a1.25,1.25 0 1,0 -2.50,0zM709.93,112.7a1.25,1.25 0 1,0 2.50,0a1.25,1.25 0 1,0 -2.50,0zM712.11,98.2a1.25,1.25 0 1,0 2.50,0a1.25,1.25 0 1,0 -2.50,0zM713.34,102.8a1.25,1.25 0 1,0 2.50,0a1.25,1.25 0 1,0 -2.50,0zM715.52,123.5a1.25,1.25 0 1,0 2.50,0a1.25,1.25 0 1,0 -2.50,0zM717.05,163.9a1.25,1.25 0 1,0 2.50,0a1.25,1.25 0 1,0 -2.50,0zM718.58,139.3a1.25,1.25 0 1,0 2.50,0a1.25,1.25 0 1,0 -2.50,0zM720.52,92.0a1.25,1.25 0 1,0 2.50,0a1.25,1.25 0 1,0 -2.50,0zM722.22,148.4a1.25,1.25 0 1,0 2.50,0a1.25,1.25 0 1,0 -2.50,0zM723.75,183.9a1.25,1.25 0 1,0 2.50,0a1.25,1.25 0 1,0 -2.50,0zM725.28,124.4a1.25,1.25 0 1,0 2.50,0a1.25,1.25 0 1,0 -2.50,0zM727.35,95.9a1.25,1.25 0 1,0 2.50,0a1.25,1.25 0 1,0 -2.50,0zM729.28,103.5a1.25,1.25 0 1,0 2.50,0a1.25,1.25 0 1,0 -2.50,0zM730.87,117.2a1.25,1.25 0 1,0 2.50,0a1.25,1.25 0 1,0 -2.50,0zM732.74,103.7a1.25,1.25 0 1,0 2.50,0a1.25,1.25 0 1,0 -2.50,0zM733.88,95.4a1.25,1.25 0 1,0 2.50,0a1.25,1.25 0 1,0 -2.50,0zM735.53,94.5a1.25,1.25 0 1,0 2.50,0a1.25,1.25 0 1,0 -2.50,0zM737.04,106.2a1.25,1.25 0 1,0 2.50,0a1.25,1.25 0 1,0 -2.50,0zM738.87,92.4a1.25,1.25 0 1,0 2.50,0a1.25,1.25 0 1,0 -2.50,0zM740.01,91.4a1.25,1.25 0 1,0 2.50,0a1.25,1.25 0 1,0 -2.50,0zM741.68,108.7a1.25,1.25 0 1,0 2.50,0a1.25,1.25 0 1,0 -2.50,0zM743.01,100.1a1.25,1.25 0 1,0 2.50,0a1.25,1.25 0 1,0 -2.50,0zM744.65,116.1a1.25,1.25 0 1,0 2.50,0a1.25,1.25 0 1,0 -2.50,0z" fill="none" stroke="#2a78bc" stroke-width="0.8" opacity="1.0"/>
</g>
<line x1="531.50" y1="62.64" x2="746.51" y2="145.68" stroke="#111" stroke-width="1.2"/>
<text x="39.60" y="59.65" class="tk" text-anchor="end" textLength="8.8" lengthAdjust="spacingAndGlyphs">0</text>
<text x="39.60" y="96.56" class="tk" text-anchor="end" textLength="14" lengthAdjust="spacingAndGlyphs">-2</text>
<text x="39.60" y="133.47" class="tk" text-anchor="end" textLength="14" lengthAdjust="spacingAndGlyphs">-4</text>
<text x="39.60" y="170.38" class="tk" text-anchor="end" textLength="14" lengthAdjust="spacingAndGlyphs">-6</text>
<text x="39.60" y="207.29" class="tk" text-anchor="end" textLength="14" lengthAdjust="spacingAndGlyphs">-8</text>
<text x="39.60" y="244.20" class="tk" text-anchor="end" textLength="22.5" lengthAdjust="spacingAndGlyphs">-10</text>
<text transform="translate(12.8,133.3) rotate(-90)" class="yl" text-anchor="middle" textLength="63" lengthAdjust="spacingAndGlyphs">ln[G(r)]</text>
</svg>
</body></html>
